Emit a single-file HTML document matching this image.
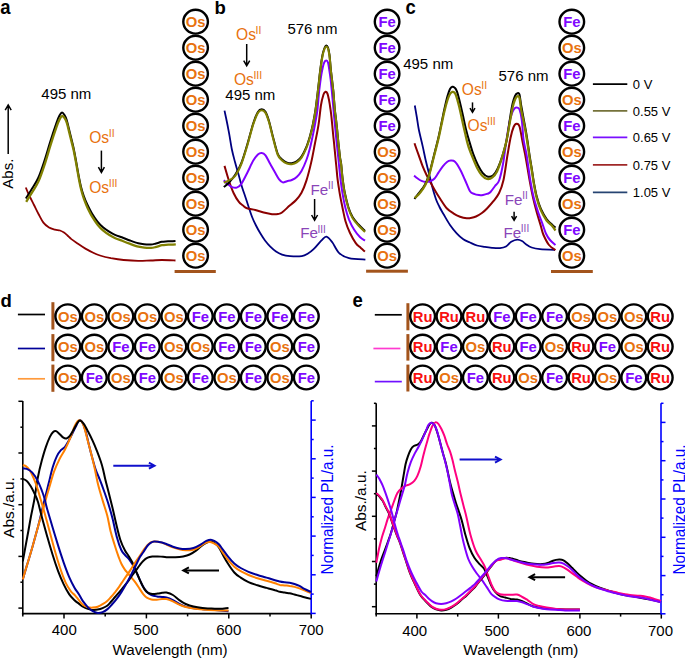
<!DOCTYPE html>
<html><head><meta charset="utf-8"><style>
html,body{margin:0;padding:0;background:#fff;width:685px;height:660px;overflow:hidden}
svg{display:block}
text{font-family:"Liberation Sans",sans-serif}
</style></head><body>
<svg width="685" height="660" viewBox="0 0 685 660">
<text x="0" y="0" font-size="18.5" font-weight="bold" transform="translate(0.3,14.1) scale(1,1.12)">a</text>
<text x="0" y="0" font-size="18.5" font-weight="bold" transform="translate(214.5,14.4) scale(1,1.00)">b</text>
<text x="0" y="0" font-size="18.5" font-weight="bold" transform="translate(405.6,14.0) scale(1,1.12)">c</text>
<text x="0" y="0" font-size="18.5" font-weight="bold" transform="translate(0.5,307.4) scale(1,1.00)">d</text>
<text x="0" y="0" font-size="18.5" font-weight="bold" transform="translate(352.4,307.3) scale(1,1.12)">e</text>
<path d="M25.8,187.5 C26.3,188.8 27.6,192.1 29.0,195.0 C30.4,197.9 32.4,201.8 34.0,205.0 C35.6,208.2 36.9,211.1 38.5,214.0 C40.1,216.9 41.6,220.3 43.4,222.6 C45.1,224.8 47.1,226.3 49.0,227.5 C50.9,228.7 53.2,229.1 55.0,229.6 C56.8,230.1 58.5,230.0 60.0,230.5 C61.5,231.0 62.8,231.7 64.0,232.5 C65.2,233.3 66.3,234.4 67.5,235.5 C68.7,236.6 69.7,237.7 71.4,239.1 C73.2,240.5 75.7,242.2 78.0,243.8 C80.3,245.4 83.0,247.2 85.4,248.6 C87.9,250.0 90.3,251.3 92.7,252.5 C95.1,253.7 97.0,254.6 100.0,255.5 C103.0,256.4 107.0,257.4 110.9,258.2 C114.8,258.9 119.0,259.6 123.6,260.0 C128.1,260.4 133.6,260.8 138.2,260.9 C142.8,261.0 147.0,260.6 150.9,260.5 C154.8,260.4 157.7,260.0 161.8,260.0 C165.9,260.0 173.2,260.4 175.5,260.5" fill="none" stroke="#8b0000" stroke-width="1.8" stroke-linejoin="round" stroke-linecap="butt" />
<path d="M25.9,198.5 C26.9,196.8 30.1,191.9 32.1,188.5 C34.2,185.1 36.2,182.5 38.2,178.0 C40.2,173.5 42.2,167.6 44.2,161.5 C46.2,155.4 48.3,147.9 50.3,141.5 C52.3,135.1 54.9,127.3 56.4,123.0 C57.9,118.7 58.6,117.2 59.5,115.5 C60.4,113.8 61.2,112.7 62.0,112.6 C62.8,112.5 63.7,113.8 64.5,115.0 C65.3,116.2 65.8,117.0 66.7,120.0 C67.6,123.0 68.9,128.9 70.0,133.3 C71.1,137.8 72.4,142.6 73.3,146.7 C74.2,150.8 74.8,154.4 75.5,158.0 C76.2,161.6 76.7,164.9 77.3,168.2 C77.9,171.4 78.4,174.5 79.0,177.5 C79.6,180.5 80.1,183.3 80.9,186.4 C81.7,189.5 82.7,193.0 83.8,196.0 C84.9,199.0 85.9,201.6 87.3,204.5 C88.7,207.4 90.3,210.7 92.0,213.5 C93.7,216.3 95.5,219.0 97.3,221.3 C99.1,223.6 101.0,225.5 103.0,227.2 C105.0,228.9 107.1,230.3 109.1,231.6 C111.1,232.9 112.9,233.9 115.0,234.8 C117.1,235.8 119.3,236.4 121.8,237.3 C124.3,238.2 127.3,239.5 130.0,240.5 C132.7,241.5 135.9,242.7 138.2,243.3 C140.5,243.9 141.9,244.1 144.0,244.3 C146.1,244.5 148.9,244.6 150.9,244.5 C152.9,244.4 154.2,243.9 156.0,243.5 C157.8,243.1 159.8,242.2 161.8,241.8 C163.8,241.4 165.7,241.5 168.0,241.3 C170.3,241.2 174.2,241.0 175.5,240.9" fill="none" stroke="#000" stroke-width="2.0" stroke-linejoin="round" stroke-linecap="butt" />
<path d="M26.2,201.9 C27.2,200.2 30.3,195.3 32.4,191.9 C34.4,188.5 36.5,185.9 38.5,181.4 C40.5,176.9 42.5,171.0 44.5,164.9 C46.5,158.8 48.6,151.3 50.6,144.9 C52.6,138.5 55.2,130.7 56.7,126.4 C58.2,122.1 58.9,120.6 59.8,118.9 C60.7,117.2 61.5,116.1 62.3,116.0 C63.1,115.9 64.0,117.2 64.8,118.4 C65.6,119.6 66.1,120.4 67.0,123.4 C67.9,126.5 69.2,132.3 70.3,136.7 C71.4,141.2 72.7,146.0 73.6,150.1 C74.5,154.2 75.1,157.8 75.8,161.4 C76.5,165.0 77.0,168.3 77.6,171.6 C78.2,174.8 78.7,177.9 79.3,180.9 C79.9,183.9 80.4,186.7 81.2,189.8 C82.0,192.9 83.0,196.4 84.1,199.4 C85.2,202.4 86.2,205.0 87.6,207.9 C89.0,210.8 90.6,214.1 92.3,216.9 C94.0,219.7 95.8,222.4 97.6,224.7 C99.4,227.0 101.3,228.9 103.3,230.6 C105.3,232.3 107.4,233.7 109.4,235.0 C111.4,236.3 113.2,237.2 115.3,238.2 C117.4,239.2 119.6,239.8 122.1,240.7 C124.6,241.7 127.6,242.9 130.3,243.9 C133.0,244.9 136.2,246.1 138.5,246.7 C140.8,247.3 142.2,247.5 144.3,247.7 C146.4,247.9 149.2,248.0 151.2,247.9 C153.2,247.8 154.5,247.3 156.3,246.9 C158.1,246.5 160.1,245.6 162.1,245.2 C164.1,244.8 166.0,244.9 168.3,244.7 C170.6,244.6 174.6,244.4 175.8,244.3" fill="none" stroke="#808000" stroke-width="2.3" stroke-linejoin="round" stroke-linecap="butt" />
<text x="41.3" y="99.2" font-size="15" fill="#000" font-weight="normal" text-anchor="start" >495 nm</text>
<path d="M8.2,154.0 L8.2,106.0" stroke="#000" stroke-width="1.5" fill="none"/>
<path d="M5.2,110.2 L8.2,105.0 L11.2,110.2" stroke="#000" stroke-width="1.5" fill="none" stroke-linejoin="miter" stroke-miterlimit="10"/>
<path d="M6.5,108.1 L8.2,105.0 L9.8,108.1 Z" fill="#000"/>
<text x="0" y="0" font-size="15" transform="translate(12.8,188.7) rotate(-90)">Abs.</text>
<text x="89.2" y="142.5" font-size="15.6" fill="#e8720f">Os<tspan font-size="10.5" dx="-0.4" dy="-5.6">II</tspan></text>
<path d="M101.4,150.6 L101.4,171.4" stroke="#000" stroke-width="1.5" fill="none"/>
<path d="M98.4,167.2 L101.4,172.4 L104.4,167.2" stroke="#000" stroke-width="1.5" fill="none" stroke-linejoin="miter" stroke-miterlimit="10"/>
<path d="M99.8,169.3 L101.4,172.4 L103.1,169.3 Z" fill="#000"/>
<text x="89.2" y="192.5" font-size="15.6" fill="#e8720f">Os<tspan font-size="10.5" dx="-0.4" dy="-5.6">III</tspan></text>
<ellipse cx="195.6" cy="21.7" rx="12.3" ry="11.9" fill="#fff" stroke="#000" stroke-width="2.4"/>
<text x="195.6" y="27.1" font-size="14.8" font-weight="bold" fill="#e8720f" text-anchor="middle">Os</text>
<ellipse cx="195.6" cy="47.7" rx="12.3" ry="11.9" fill="#fff" stroke="#000" stroke-width="2.4"/>
<text x="195.6" y="53.1" font-size="14.8" font-weight="bold" fill="#e8720f" text-anchor="middle">Os</text>
<ellipse cx="195.6" cy="73.7" rx="12.3" ry="11.9" fill="#fff" stroke="#000" stroke-width="2.4"/>
<text x="195.6" y="79.1" font-size="14.8" font-weight="bold" fill="#e8720f" text-anchor="middle">Os</text>
<ellipse cx="195.6" cy="99.7" rx="12.3" ry="11.9" fill="#fff" stroke="#000" stroke-width="2.4"/>
<text x="195.6" y="105.1" font-size="14.8" font-weight="bold" fill="#e8720f" text-anchor="middle">Os</text>
<ellipse cx="195.6" cy="125.7" rx="12.3" ry="11.9" fill="#fff" stroke="#000" stroke-width="2.4"/>
<text x="195.6" y="131.1" font-size="14.8" font-weight="bold" fill="#e8720f" text-anchor="middle">Os</text>
<ellipse cx="195.6" cy="151.7" rx="12.3" ry="11.9" fill="#fff" stroke="#000" stroke-width="2.4"/>
<text x="195.6" y="157.1" font-size="14.8" font-weight="bold" fill="#e8720f" text-anchor="middle">Os</text>
<ellipse cx="195.6" cy="177.7" rx="12.3" ry="11.9" fill="#fff" stroke="#000" stroke-width="2.4"/>
<text x="195.6" y="183.1" font-size="14.8" font-weight="bold" fill="#e8720f" text-anchor="middle">Os</text>
<ellipse cx="195.6" cy="203.7" rx="12.3" ry="11.9" fill="#fff" stroke="#000" stroke-width="2.4"/>
<text x="195.6" y="209.1" font-size="14.8" font-weight="bold" fill="#e8720f" text-anchor="middle">Os</text>
<ellipse cx="195.6" cy="229.7" rx="12.3" ry="11.9" fill="#fff" stroke="#000" stroke-width="2.4"/>
<text x="195.6" y="235.1" font-size="14.8" font-weight="bold" fill="#e8720f" text-anchor="middle">Os</text>
<ellipse cx="195.6" cy="255.7" rx="12.3" ry="11.9" fill="#fff" stroke="#000" stroke-width="2.4"/>
<text x="195.6" y="261.1" font-size="14.8" font-weight="bold" fill="#e8720f" text-anchor="middle">Os</text>
<rect x="174.6" y="270.0" width="41.2" height="3" fill="#a3541c"/>
<path d="M224.5,110.6 C224.9,112.4 226.0,117.7 226.8,121.5 C227.6,125.3 228.2,128.6 229.1,133.3 C230.0,138.1 231.0,145.2 232.0,150.0 C233.0,154.8 233.9,157.8 235.0,162.0 C236.1,166.2 237.5,170.8 238.7,175.0 C239.9,179.2 240.9,183.4 242.0,187.0 C243.1,190.6 244.2,193.4 245.3,196.7 C246.4,199.9 247.4,203.2 248.5,206.5 C249.6,209.8 250.8,213.5 252.0,216.7 C253.2,219.9 254.6,222.7 256.0,225.5 C257.4,228.3 258.8,230.8 260.3,233.3 C261.8,235.8 263.3,238.3 265.0,240.5 C266.7,242.7 268.5,244.9 270.3,246.7 C272.1,248.5 274.1,250.2 276.0,251.5 C277.9,252.8 279.7,253.8 282.0,254.6 C284.3,255.4 286.7,255.9 290.0,256.1 C293.3,256.4 298.8,256.5 301.8,256.1 C304.8,255.7 306.0,254.7 308.0,253.5 C310.0,252.3 311.4,251.4 313.6,249.2 C315.9,247.0 319.4,242.5 321.5,240.4 C323.6,238.3 324.6,236.3 326.4,236.6 C328.2,236.9 330.2,239.6 332.3,242.3 C334.4,245.1 336.4,250.5 339.2,253.1 C342.0,255.7 344.6,257.0 349.0,258.1 C353.4,259.2 362.7,259.4 365.4,259.6" fill="none" stroke="#000080" stroke-width="1.8" stroke-linejoin="round" stroke-linecap="butt" />
<path d="M224.5,165.9 C225.2,168.2 227.2,175.4 228.7,180.0 C230.2,184.6 232.0,189.7 233.7,193.3 C235.4,196.9 237.1,199.7 238.7,201.7 C240.2,203.7 241.6,204.4 243.0,205.5 C244.4,206.6 244.9,207.6 247.0,208.3 C249.1,209.1 252.5,209.3 255.3,210.0 C258.1,210.7 260.9,211.8 263.7,212.5 C266.5,213.2 269.6,213.9 272.0,214.2 C274.4,214.4 276.3,214.3 278.0,214.0 C279.7,213.7 280.1,213.9 282.0,212.5 C283.9,211.1 287.3,207.7 289.7,205.6 C292.1,203.5 294.1,202.2 296.1,200.0 C298.1,197.8 299.8,195.9 301.5,192.7 C303.2,189.5 304.8,185.6 306.4,180.6 C308.0,175.6 309.8,168.5 311.2,162.4 C312.6,156.3 313.6,150.5 314.8,144.2 C316.0,137.9 317.5,131.3 318.5,124.8 C319.5,118.3 320.2,110.0 321.0,105.0 C321.8,100.0 322.8,96.7 323.5,94.5 C324.2,92.3 324.9,92.0 325.5,91.8 C326.1,91.6 326.8,92.1 327.4,93.5 C328.0,94.9 328.5,97.6 329.0,100.0 C329.5,102.4 329.9,105.1 330.3,108.0 C330.7,110.9 331.1,113.5 331.5,117.3 C331.9,121.1 332.4,126.5 332.8,131.0 C333.2,135.6 333.8,140.1 334.2,144.6 C334.6,149.1 335.2,154.6 335.5,158.0 C335.8,161.4 335.8,161.4 336.2,165.0 C336.6,168.6 337.0,174.6 337.6,179.4 C338.2,184.2 339.0,189.0 339.8,193.8 C340.6,198.6 341.7,203.6 342.6,208.2 C343.6,212.8 344.3,217.1 345.5,221.2 C346.7,225.3 348.2,229.1 349.9,232.7 C351.6,236.3 353.9,240.4 355.6,242.8 C357.3,245.2 358.3,245.7 359.9,247.1 C361.5,248.5 364.1,250.8 365.0,251.5" fill="none" stroke="#8b0000" stroke-width="2.0" stroke-linejoin="round" stroke-linecap="butt" />
<path d="M223.8,180.3 C224.4,180.9 226.2,183.0 227.6,184.1 C229.0,185.2 230.6,186.5 232.1,187.1 C233.6,187.7 235.2,188.1 236.7,187.6 C238.2,187.1 239.4,186.6 241.2,184.1 C243.0,181.6 245.3,176.6 247.3,172.7 C249.3,168.8 251.5,163.6 253.3,160.6 C255.1,157.6 256.5,155.8 257.9,154.5 C259.3,153.2 260.4,152.9 261.7,153.0 C263.0,153.1 264.1,153.5 265.5,155.3 C266.9,157.1 268.4,160.8 270.0,163.6 C271.6,166.4 273.3,169.5 274.8,172.1 C276.3,174.7 277.8,177.7 279.1,179.4 C280.4,181.1 281.4,182.1 282.7,182.4 C284.0,182.7 285.5,181.6 287.0,181.2 C288.5,180.8 290.2,180.7 291.8,180.0 C293.4,179.3 295.1,178.5 296.7,177.0 C298.3,175.5 299.9,173.7 301.5,170.9 C303.1,168.1 305.0,163.8 306.4,160.0 C307.8,156.2 308.9,152.2 310.0,147.9 C311.1,143.7 312.1,138.9 313.0,134.5 C313.9,130.1 314.8,125.6 315.5,121.5 C316.2,117.4 316.8,115.1 317.4,110.0 C318.0,104.9 318.6,96.0 319.2,90.7 C319.8,85.4 320.3,81.5 320.8,78.0 C321.3,74.5 321.7,72.5 322.2,70.0 C322.7,67.5 323.3,64.6 324.0,63.0 C324.7,61.4 325.5,60.7 326.2,60.6 C326.9,60.5 327.5,60.9 328.0,62.5 C328.5,64.1 328.9,67.1 329.3,70.0 C329.8,72.9 330.3,76.5 330.7,80.0 C331.1,83.5 331.4,86.7 331.8,90.7 C332.2,94.7 332.6,99.6 333.0,104.0 C333.4,108.4 333.8,112.8 334.2,117.3 C334.6,121.8 335.1,126.5 335.5,131.0 C335.9,135.6 336.4,140.1 336.9,144.6 C337.4,149.1 337.9,154.6 338.3,158.0 C338.7,161.4 338.6,161.4 339.0,165.0 C339.4,168.6 339.9,174.6 340.5,179.4 C341.1,184.2 341.8,189.0 342.6,193.8 C343.4,198.6 344.4,203.9 345.5,208.2 C346.6,212.5 347.7,216.2 349.1,219.8 C350.6,223.4 352.4,226.9 354.2,229.8 C356.0,232.7 358.1,235.2 359.9,237.0 C361.7,238.8 364.1,240.0 365.0,240.6" fill="none" stroke="#8000ff" stroke-width="2.0" stroke-linejoin="round" stroke-linecap="butt" />
<path d="M223.8,187.1 C224.7,186.3 227.2,184.6 229.1,182.5 C231.0,180.4 233.1,178.1 235.2,174.8 C237.3,171.5 239.5,167.7 241.5,162.6 C243.5,157.5 245.3,151.1 247.3,144.5 C249.3,137.9 251.5,128.6 253.3,123.2 C255.1,117.8 256.5,114.2 257.9,111.9 C259.3,109.6 260.4,109.3 261.7,109.3 C263.0,109.3 264.2,109.8 265.5,111.9 C266.8,114.0 267.9,117.5 269.2,121.7 C270.4,125.9 271.6,131.6 273.0,136.9 C274.4,142.2 276.1,149.7 277.6,153.5 C279.1,157.3 280.5,158.0 282.1,159.5 C283.7,161.0 285.4,162.0 287.0,162.6 C288.6,163.2 290.2,163.4 291.8,163.2 C293.4,163.0 295.1,162.5 296.7,161.4 C298.3,160.3 299.9,159.0 301.5,156.6 C303.1,154.2 305.0,150.3 306.4,146.9 C307.8,143.5 308.9,139.8 310.0,136.0 C311.1,132.2 312.1,128.3 313.0,123.8 C313.9,119.3 314.8,114.7 315.6,109.0 C316.4,103.3 317.2,96.4 318.0,89.7 C318.8,83.0 319.6,74.8 320.4,69.0 C321.1,63.2 321.8,58.5 322.5,55.0 C323.2,51.5 323.9,49.6 324.5,48.0 C325.1,46.4 325.6,45.6 326.2,45.5 C326.8,45.4 327.4,45.9 328.0,47.5 C328.6,49.1 329.0,51.4 329.5,55.0 C330.0,58.6 330.2,63.2 330.8,69.0 C331.4,74.8 332.5,83.0 333.2,89.7 C333.9,96.4 334.3,104.1 334.8,109.0 C335.3,113.9 335.6,115.5 336.0,119.0 C336.4,122.5 336.8,125.9 337.2,130.0 C337.6,134.1 338.0,139.1 338.5,143.6 C339.0,148.1 339.6,153.6 340.0,157.0 C340.4,160.4 340.8,160.4 341.2,164.0 C341.6,167.6 342.0,173.6 342.6,178.4 C343.2,183.2 343.8,188.0 344.8,192.8 C345.8,197.6 347.1,203.1 348.4,207.2 C349.7,211.3 351.0,214.4 352.7,217.3 C354.4,220.2 356.4,222.2 358.5,224.5 C360.6,226.8 363.9,229.9 365.0,231.0" fill="none" stroke="#000" stroke-width="2.0" stroke-linejoin="round" stroke-linecap="butt" />
<path d="M223.8,182.6 C224.7,182.2 227.2,181.4 229.1,180.3 C231.0,179.2 233.1,178.6 235.2,175.8 C237.3,173.0 239.5,168.7 241.5,163.6 C243.5,158.5 245.3,152.1 247.3,145.5 C249.3,138.9 251.5,129.6 253.3,124.2 C255.1,118.8 256.5,115.2 257.9,112.9 C259.3,110.6 260.4,110.3 261.7,110.3 C263.0,110.3 264.2,110.8 265.5,112.9 C266.8,115.0 267.9,118.5 269.2,122.7 C270.4,126.9 271.6,132.6 273.0,137.9 C274.4,143.2 276.1,150.7 277.6,154.5 C279.1,158.3 280.5,159.0 282.1,160.5 C283.7,162.0 285.4,163.0 287.0,163.6 C288.6,164.2 290.2,164.4 291.8,164.2 C293.4,164.0 295.1,163.5 296.7,162.4 C298.3,161.3 299.9,160.0 301.5,157.6 C303.1,155.2 305.0,151.3 306.4,147.9 C307.8,144.5 308.9,140.8 310.0,137.0 C311.1,133.2 312.1,129.3 313.0,124.8 C313.9,120.3 314.8,115.7 315.6,110.0 C316.4,104.3 317.2,97.4 318.0,90.7 C318.8,84.0 319.6,75.8 320.4,70.0 C321.1,64.2 321.8,59.5 322.5,56.0 C323.2,52.5 323.9,50.6 324.5,49.0 C325.1,47.4 325.6,46.6 326.2,46.5 C326.8,46.4 327.4,46.9 328.0,48.5 C328.6,50.1 329.0,52.4 329.5,56.0 C330.0,59.6 330.2,64.2 330.8,70.0 C331.4,75.8 332.5,84.0 333.2,90.7 C333.9,97.4 334.3,105.1 334.8,110.0 C335.3,114.9 335.6,116.5 336.0,120.0 C336.4,123.5 336.8,126.9 337.2,131.0 C337.6,135.1 338.0,140.1 338.5,144.6 C339.0,149.1 339.6,154.6 340.0,158.0 C340.4,161.4 340.8,161.4 341.2,165.0 C341.6,168.6 342.0,174.6 342.6,179.4 C343.2,184.2 343.8,189.0 344.8,193.8 C345.8,198.6 347.1,204.1 348.4,208.2 C349.7,212.3 351.0,215.4 352.7,218.3 C354.4,221.2 356.4,223.2 358.5,225.5 C360.6,227.8 363.9,230.9 365.0,232.0" fill="none" stroke="#808000" stroke-width="2.1" stroke-linejoin="round" stroke-linecap="butt" />
<text x="236.0" y="40.0" font-size="15.6" fill="#e8720f">Os<tspan font-size="10.5" dx="-0.4" dy="-5.6">II</tspan></text>
<path d="M246.7,44.0 L246.7,64.8" stroke="#000" stroke-width="1.5" fill="none"/>
<path d="M243.7,60.6 L246.7,65.8 L249.7,60.6" stroke="#000" stroke-width="1.5" fill="none" stroke-linejoin="miter" stroke-miterlimit="10"/>
<path d="M245.0,62.7 L246.7,65.8 L248.3,62.7 Z" fill="#000"/>
<text x="233.9" y="84.7" font-size="15.6" fill="#e8720f">Os<tspan font-size="10.5" dx="-0.4" dy="-5.6">III</tspan></text>
<text x="225.3" y="99.8" font-size="15" fill="#000" font-weight="normal" text-anchor="start" >495 nm</text>
<text x="287.4" y="33.9" font-size="15" fill="#000" font-weight="normal" text-anchor="start" >576 nm</text>
<text x="310.6" y="194.6" font-size="15.2" fill="#8a45b8">Fe<tspan font-size="10" dx="-0.4" dy="-5.3">II</tspan></text>
<path d="M314.6,199.0 L314.6,219.2" stroke="#000" stroke-width="1.5" fill="none"/>
<path d="M311.6,215.0 L314.6,220.2 L317.6,215.0" stroke="#000" stroke-width="1.5" fill="none" stroke-linejoin="miter" stroke-miterlimit="10"/>
<path d="M313.0,217.1 L314.6,220.2 L316.2,217.1 Z" fill="#000"/>
<text x="300.2" y="238.2" font-size="15.2" fill="#8a45b8">Fe<tspan font-size="10" dx="-0.4" dy="-5.3">III</tspan></text>
<ellipse cx="387.1" cy="21.7" rx="12.3" ry="11.9" fill="#fff" stroke="#000" stroke-width="2.4"/>
<text x="387.1" y="27.1" font-size="14.8" font-weight="bold" fill="#7f08ff" text-anchor="middle">Fe</text>
<ellipse cx="387.1" cy="47.7" rx="12.3" ry="11.9" fill="#fff" stroke="#000" stroke-width="2.4"/>
<text x="387.1" y="53.1" font-size="14.8" font-weight="bold" fill="#7f08ff" text-anchor="middle">Fe</text>
<ellipse cx="387.1" cy="73.7" rx="12.3" ry="11.9" fill="#fff" stroke="#000" stroke-width="2.4"/>
<text x="387.1" y="79.1" font-size="14.8" font-weight="bold" fill="#7f08ff" text-anchor="middle">Fe</text>
<ellipse cx="387.1" cy="99.7" rx="12.3" ry="11.9" fill="#fff" stroke="#000" stroke-width="2.4"/>
<text x="387.1" y="105.1" font-size="14.8" font-weight="bold" fill="#7f08ff" text-anchor="middle">Fe</text>
<ellipse cx="387.1" cy="125.7" rx="12.3" ry="11.9" fill="#fff" stroke="#000" stroke-width="2.4"/>
<text x="387.1" y="131.1" font-size="14.8" font-weight="bold" fill="#7f08ff" text-anchor="middle">Fe</text>
<ellipse cx="387.1" cy="151.7" rx="12.3" ry="11.9" fill="#fff" stroke="#000" stroke-width="2.4"/>
<text x="387.1" y="157.1" font-size="14.8" font-weight="bold" fill="#e8720f" text-anchor="middle">Os</text>
<ellipse cx="387.1" cy="177.7" rx="12.3" ry="11.9" fill="#fff" stroke="#000" stroke-width="2.4"/>
<text x="387.1" y="183.1" font-size="14.8" font-weight="bold" fill="#e8720f" text-anchor="middle">Os</text>
<ellipse cx="387.1" cy="203.7" rx="12.3" ry="11.9" fill="#fff" stroke="#000" stroke-width="2.4"/>
<text x="387.1" y="209.1" font-size="14.8" font-weight="bold" fill="#e8720f" text-anchor="middle">Os</text>
<ellipse cx="387.1" cy="229.7" rx="12.3" ry="11.9" fill="#fff" stroke="#000" stroke-width="2.4"/>
<text x="387.1" y="235.1" font-size="14.8" font-weight="bold" fill="#e8720f" text-anchor="middle">Os</text>
<ellipse cx="387.1" cy="255.7" rx="12.3" ry="11.9" fill="#fff" stroke="#000" stroke-width="2.4"/>
<text x="387.1" y="261.1" font-size="14.8" font-weight="bold" fill="#e8720f" text-anchor="middle">Os</text>
<rect x="366.1" y="269.7" width="41.8" height="3" fill="#a3541c"/>
<path d="M414.8,105.5 C415.1,107.4 416.1,112.9 416.8,117.0 C417.5,121.1 417.9,125.2 418.9,130.0 C419.9,134.8 421.5,140.8 422.6,145.9 C423.8,151.0 424.7,156.2 425.8,160.8 C426.9,165.4 427.9,169.3 429.0,173.5 C430.1,177.7 431.0,181.9 432.1,186.2 C433.2,190.4 434.7,195.5 435.9,199.0 C437.1,202.5 438.3,204.5 439.5,207.0 C440.7,209.5 441.6,210.8 443.3,213.8 C445.1,216.8 447.8,221.8 450.0,225.0 C452.2,228.2 454.5,230.9 456.7,233.3 C458.9,235.7 461.1,237.7 463.3,239.2 C465.5,240.7 467.7,241.4 470.0,242.5 C472.3,243.6 474.5,244.8 477.0,245.5 C479.5,246.2 482.3,246.5 484.8,246.9 C487.3,247.3 489.5,247.6 492.0,247.8 C494.5,248.0 497.7,248.3 500.0,248.1 C502.3,247.9 504.1,247.6 506.0,246.5 C507.9,245.4 509.3,243.0 511.2,241.8 C513.1,240.7 515.4,239.7 517.2,239.6 C519.0,239.5 520.5,240.2 522.0,241.0 C523.5,241.8 524.7,243.4 526.3,244.5 C527.9,245.6 529.4,246.7 531.7,247.5 C534.0,248.3 536.1,248.8 540.0,249.2 C543.9,249.6 552.5,249.9 555.0,250.0" fill="none" stroke="#000080" stroke-width="1.8" stroke-linejoin="round" stroke-linecap="butt" />
<path d="M414.5,143.3 C415.1,145.2 417.0,150.6 418.4,154.4 C419.8,158.2 421.2,162.6 422.6,166.1 C424.0,169.6 425.4,172.6 426.8,175.5 C428.2,178.4 429.7,180.9 431.1,183.5 C432.5,186.1 433.8,188.4 435.3,191.0 C436.8,193.6 438.4,196.1 440.3,199.0 C442.2,201.9 444.5,205.9 446.7,208.3 C448.9,210.7 451.1,211.9 453.3,213.3 C455.5,214.7 457.8,215.9 460.0,216.7 C462.2,217.5 465.0,218.1 466.7,218.3 C468.4,218.5 468.8,218.3 470.4,218.0 C471.9,217.7 474.1,217.3 476.0,216.5 C477.9,215.7 480.1,214.3 481.9,213.0 C483.7,211.7 485.1,210.5 487.0,208.5 C488.9,206.5 491.4,203.8 493.4,201.2 C495.4,198.6 497.4,196.5 499.1,193.0 C500.8,189.5 502.1,186.3 503.5,180.0 C504.9,173.7 506.3,162.0 507.5,155.0 C508.7,148.0 509.5,142.7 510.5,138.0 C511.5,133.3 512.6,129.4 513.6,127.0 C514.6,124.6 515.6,123.9 516.6,123.8 C517.6,123.7 518.6,123.8 519.5,126.5 C520.4,129.2 521.3,135.3 522.2,140.0 C523.1,144.7 524.2,149.6 525.1,154.4 C526.0,159.2 526.8,163.9 527.6,168.7 C528.4,173.5 529.2,178.3 530.1,183.1 C531.0,187.9 531.9,192.7 533.0,197.5 C534.1,202.3 535.3,207.0 536.6,211.8 C537.9,216.6 539.8,222.3 540.9,226.2 C542.0,230.1 542.1,231.9 543.5,235.0 C544.9,238.1 547.0,242.5 549.0,245.0 C551.0,247.5 554.4,249.2 555.5,250.0" fill="none" stroke="#8b0000" stroke-width="2.0" stroke-linejoin="round" stroke-linecap="butt" />
<path d="M414.1,175.6 C414.6,176.0 416.1,177.3 417.3,178.2 C418.5,179.1 420.1,180.3 421.5,180.9 C422.9,181.5 424.4,181.9 425.8,182.0 C427.2,182.1 428.6,181.9 430.0,181.4 C431.4,180.9 432.9,180.3 434.3,178.8 C435.7,177.3 437.1,174.7 438.5,172.6 C439.9,170.5 441.4,168.2 442.8,166.4 C444.2,164.6 445.7,163.0 447.0,162.0 C448.3,161.0 449.5,160.7 450.8,160.6 C452.1,160.5 453.5,160.3 455.0,161.7 C456.5,163.1 458.3,166.1 460.0,169.2 C461.7,172.2 463.3,176.3 465.0,180.0 C466.7,183.7 468.5,188.9 470.0,191.2 C471.5,193.5 472.5,193.2 474.0,193.8 C475.5,194.5 477.5,194.9 479.0,195.1 C480.5,195.3 481.6,195.2 483.0,195.0 C484.4,194.8 486.4,194.2 487.6,193.7 C488.9,193.2 489.3,193.3 490.5,192.0 C491.7,190.7 493.6,187.9 495.0,186.0 C496.4,184.1 497.8,184.2 499.1,180.5 C500.4,176.8 501.8,170.8 503.0,164.0 C504.2,157.2 505.4,147.0 506.5,140.0 C507.6,133.0 508.5,126.7 509.5,122.0 C510.5,117.3 511.6,114.3 512.5,112.0 C513.4,109.7 514.2,108.7 515.0,108.0 C515.8,107.3 516.5,107.3 517.2,107.6 C518.0,107.8 518.7,107.4 519.5,109.5 C520.3,111.6 521.1,114.9 521.8,120.0 C522.5,125.1 522.8,134.3 523.6,140.0 C524.4,145.7 525.7,149.6 526.5,154.4 C527.3,159.2 527.9,163.9 528.6,168.7 C529.3,173.5 529.9,178.3 530.8,183.1 C531.6,187.9 532.5,192.7 533.7,197.5 C534.9,202.3 536.6,207.5 538.0,211.8 C539.4,216.1 541.0,219.7 542.3,223.3 C543.6,226.9 544.6,230.7 545.9,233.5 C547.2,236.3 548.4,238.1 550.0,240.0 C551.6,241.9 554.6,244.2 555.5,245.0" fill="none" stroke="#8000ff" stroke-width="2.0" stroke-linejoin="round" stroke-linecap="butt" />
<path d="M414.5,199.0 C415.1,198.1 417.0,195.5 418.4,193.7 C419.8,191.9 421.4,190.2 422.6,188.4 C423.8,186.6 424.7,185.3 425.8,183.0 C426.9,180.7 427.9,177.9 429.0,174.5 C430.1,171.1 431.1,166.9 432.1,162.8 C433.2,158.7 434.2,154.2 435.3,150.0 C436.4,145.8 437.5,141.8 438.5,137.3 C439.5,132.8 440.5,127.8 441.5,123.0 C442.5,118.2 443.5,113.0 444.5,108.5 C445.5,104.0 446.6,99.2 447.5,96.0 C448.4,92.8 449.2,90.5 450.0,89.0 C450.8,87.5 451.6,87.0 452.3,86.8 C453.1,86.6 453.8,86.9 454.5,87.6 C455.2,88.3 455.9,88.8 456.8,91.1 C457.7,93.4 458.8,97.7 459.8,101.7 C460.8,105.7 461.9,110.8 462.9,115.3 C463.9,119.8 464.8,124.4 465.9,128.9 C467.0,133.5 468.4,138.3 469.7,142.6 C471.0,146.9 472.1,150.9 473.5,154.7 C474.9,158.5 476.5,162.3 478.0,165.3 C479.5,168.3 481.0,171.0 482.6,172.9 C484.2,174.8 486.1,176.3 487.9,176.7 C489.7,177.1 491.6,176.6 493.2,175.2 C494.8,173.8 496.2,171.5 497.7,168.3 C499.2,165.1 500.8,161.0 502.3,156.2 C503.8,151.4 505.5,145.8 506.8,139.5 C508.1,133.2 509.1,124.2 510.0,118.3 C510.9,112.4 511.7,107.7 512.5,104.0 C513.3,100.3 514.2,97.8 515.0,96.0 C515.8,94.2 516.8,93.5 517.5,93.3 C518.2,93.0 518.9,92.5 519.5,94.5 C520.1,96.5 520.4,101.1 521.1,105.0 C521.8,108.9 522.7,113.7 523.5,118.0 C524.3,122.3 525.2,126.8 525.9,131.0 C526.6,135.2 527.2,138.9 527.8,143.0 C528.4,147.1 529.0,151.5 529.6,155.5 C530.2,159.5 530.8,162.7 531.5,167.0 C532.2,171.3 532.9,176.7 533.7,181.5 C534.6,186.3 535.4,191.4 536.6,196.0 C537.8,200.6 539.2,205.2 540.9,209.0 C542.6,212.8 544.7,216.3 546.6,219.0 C548.5,221.7 550.9,223.6 552.4,225.0 C553.9,226.4 555.0,227.2 555.5,227.6" fill="none" stroke="#000" stroke-width="2.0" stroke-linejoin="round" stroke-linecap="butt" />
<path d="M414.7,198.0 C415.3,197.4 417.1,196.1 418.4,194.7 C419.7,193.3 421.4,191.2 422.6,189.4 C423.8,187.6 424.7,186.4 425.8,184.1 C426.9,181.8 427.9,179.0 429.0,175.6 C430.1,172.2 431.1,168.0 432.1,163.9 C433.2,159.8 434.2,155.4 435.3,151.2 C436.4,147.0 437.5,142.9 438.5,138.5 C439.5,134.1 440.5,129.1 441.5,124.5 C442.5,119.9 443.5,115.1 444.5,111.0 C445.5,106.9 446.6,102.8 447.5,100.0 C448.4,97.2 449.2,95.3 450.0,94.0 C450.8,92.7 451.6,92.1 452.3,91.9 C453.1,91.7 453.9,92.0 454.5,92.6 C455.1,93.2 455.3,93.3 456.1,95.6 C456.9,97.9 458.1,102.2 459.1,106.2 C460.1,110.2 461.1,115.2 462.1,119.8 C463.1,124.3 464.2,129.2 465.2,133.5 C466.2,137.8 466.9,141.6 468.2,145.6 C469.4,149.6 471.2,153.9 472.7,157.7 C474.2,161.5 475.8,165.4 477.3,168.3 C478.8,171.2 480.2,173.4 481.8,175.2 C483.4,177.0 485.3,178.5 487.1,178.9 C488.9,179.3 490.8,178.7 492.4,177.4 C494.0,176.2 495.5,174.4 497.0,171.4 C498.5,168.4 500.0,164.0 501.5,159.2 C503.0,154.4 504.7,148.9 506.1,142.6 C507.5,136.3 508.9,127.2 510.0,121.4 C511.1,115.6 511.7,111.7 512.5,108.0 C513.3,104.3 514.2,101.5 515.0,99.5 C515.8,97.5 516.5,96.5 517.3,96.3 C518.0,96.0 518.9,95.8 519.5,98.0 C520.1,100.2 520.4,105.5 521.1,109.3 C521.8,113.1 522.7,117.0 523.5,121.0 C524.3,125.0 525.2,129.4 525.9,133.5 C526.6,137.6 527.2,141.4 527.8,145.5 C528.4,149.6 529.0,153.9 529.6,157.8 C530.2,161.7 530.8,164.5 531.5,168.7 C532.2,172.9 532.9,178.3 533.7,183.1 C534.6,187.9 535.4,192.9 536.6,197.5 C537.8,202.1 539.2,206.6 540.9,210.4 C542.6,214.2 544.7,217.9 546.6,220.5 C548.5,223.1 550.9,224.5 552.4,226.2 C553.9,227.9 555.0,229.8 555.5,230.5" fill="none" stroke="#808000" stroke-width="2.3" stroke-linejoin="round" stroke-linecap="butt" />
<text x="403.2" y="69.4" font-size="15" fill="#000" font-weight="normal" text-anchor="start" >495 nm</text>
<text x="498.5" y="80.6" font-size="15" fill="#000" font-weight="normal" text-anchor="start" >576 nm</text>
<text x="461.8" y="95.0" font-size="15.6" fill="#e8720f">Os<tspan font-size="10.5" dx="-0.4" dy="-5.6">II</tspan></text>
<path d="M472.5,102.4 L472.5,111.3" stroke="#000" stroke-width="1.5" fill="none"/>
<path d="M470.0,108.1 L472.5,112.3 L475.0,108.1" stroke="#000" stroke-width="1.5" fill="none" stroke-linejoin="miter" stroke-miterlimit="10"/>
<path d="M471.1,109.8 L472.5,112.3 L473.9,109.8 Z" fill="#000"/>
<text x="467.5" y="131.0" font-size="15.6" fill="#e8720f">Os<tspan font-size="10.5" dx="-0.4" dy="-5.6">III</tspan></text>
<text x="504.8" y="204.6" font-size="15.2" fill="#8a45b8">Fe<tspan font-size="10" dx="-0.4" dy="-5.3">II</tspan></text>
<path d="M514.1,211.8 L514.1,219.3" stroke="#000" stroke-width="1.5" fill="none"/>
<path d="M511.6,216.1 L514.1,220.3 L516.6,216.1" stroke="#000" stroke-width="1.5" fill="none" stroke-linejoin="miter" stroke-miterlimit="10"/>
<path d="M512.7,217.8 L514.1,220.3 L515.5,217.8 Z" fill="#000"/>
<text x="503.5" y="237.5" font-size="15.2" fill="#8a45b8">Fe<tspan font-size="10" dx="-0.4" dy="-5.3">III</tspan></text>
<ellipse cx="571.8" cy="21.7" rx="12.3" ry="11.9" fill="#fff" stroke="#000" stroke-width="2.4"/>
<text x="571.8" y="27.1" font-size="14.8" font-weight="bold" fill="#7f08ff" text-anchor="middle">Fe</text>
<ellipse cx="571.8" cy="47.7" rx="12.3" ry="11.9" fill="#fff" stroke="#000" stroke-width="2.4"/>
<text x="571.8" y="53.1" font-size="14.8" font-weight="bold" fill="#e8720f" text-anchor="middle">Os</text>
<ellipse cx="571.8" cy="73.7" rx="12.3" ry="11.9" fill="#fff" stroke="#000" stroke-width="2.4"/>
<text x="571.8" y="79.1" font-size="14.8" font-weight="bold" fill="#7f08ff" text-anchor="middle">Fe</text>
<ellipse cx="571.8" cy="99.7" rx="12.3" ry="11.9" fill="#fff" stroke="#000" stroke-width="2.4"/>
<text x="571.8" y="105.1" font-size="14.8" font-weight="bold" fill="#e8720f" text-anchor="middle">Os</text>
<ellipse cx="571.8" cy="125.7" rx="12.3" ry="11.9" fill="#fff" stroke="#000" stroke-width="2.4"/>
<text x="571.8" y="131.1" font-size="14.8" font-weight="bold" fill="#7f08ff" text-anchor="middle">Fe</text>
<ellipse cx="571.8" cy="151.7" rx="12.3" ry="11.9" fill="#fff" stroke="#000" stroke-width="2.4"/>
<text x="571.8" y="157.1" font-size="14.8" font-weight="bold" fill="#e8720f" text-anchor="middle">Os</text>
<ellipse cx="571.8" cy="177.7" rx="12.3" ry="11.9" fill="#fff" stroke="#000" stroke-width="2.4"/>
<text x="571.8" y="183.1" font-size="14.8" font-weight="bold" fill="#7f08ff" text-anchor="middle">Fe</text>
<ellipse cx="571.8" cy="203.7" rx="12.3" ry="11.9" fill="#fff" stroke="#000" stroke-width="2.4"/>
<text x="571.8" y="209.1" font-size="14.8" font-weight="bold" fill="#e8720f" text-anchor="middle">Os</text>
<ellipse cx="571.8" cy="229.7" rx="12.3" ry="11.9" fill="#fff" stroke="#000" stroke-width="2.4"/>
<text x="571.8" y="235.1" font-size="14.8" font-weight="bold" fill="#7f08ff" text-anchor="middle">Fe</text>
<ellipse cx="571.8" cy="255.7" rx="12.3" ry="11.9" fill="#fff" stroke="#000" stroke-width="2.4"/>
<text x="571.8" y="261.1" font-size="14.8" font-weight="bold" fill="#e8720f" text-anchor="middle">Os</text>
<rect x="551.0" y="270.0" width="41.8" height="3" fill="#a3541c"/>
<line x1="592.9" y1="84.2" x2="627.3" y2="84.2" stroke="#000" stroke-width="1.8"/>
<text x="632.8" y="89.0" font-size="13" fill="#000" font-weight="normal" text-anchor="start" >0 V</text>
<line x1="592.9" y1="110.9" x2="627.3" y2="110.9" stroke="#75723a" stroke-width="1.8"/>
<text x="632.8" y="115.7" font-size="13" fill="#000" font-weight="normal" text-anchor="start" >0.55 V</text>
<line x1="592.9" y1="137.3" x2="627.3" y2="137.3" stroke="#7a10ff" stroke-width="1.8"/>
<text x="632.8" y="142.1" font-size="13" fill="#000" font-weight="normal" text-anchor="start" >0.65 V</text>
<line x1="592.9" y1="164.9" x2="627.3" y2="164.9" stroke="#a02828" stroke-width="1.8"/>
<text x="632.8" y="169.7" font-size="13" fill="#000" font-weight="normal" text-anchor="start" >0.75 V</text>
<line x1="592.9" y1="192.4" x2="627.3" y2="192.4" stroke="#264472" stroke-width="1.8"/>
<text x="632.8" y="197.2" font-size="13" fill="#000" font-weight="normal" text-anchor="start" >1.05 V</text>
<line x1="17.9" y1="314.5" x2="45" y2="314.5" stroke="#000" stroke-width="1.7"/>
<rect x="51.4" y="302.2" width="3.0" height="27.3" fill="#a3541c"/>
<ellipse cx="67.8" cy="316.3" rx="12.4" ry="11.9" fill="#fff" stroke="#000" stroke-width="2.4"/>
<text x="67.8" y="321.7" font-size="14.8" font-weight="bold" fill="#e8720f" text-anchor="middle">Os</text>
<ellipse cx="94.3" cy="316.3" rx="12.4" ry="11.9" fill="#fff" stroke="#000" stroke-width="2.4"/>
<text x="94.3" y="321.7" font-size="14.8" font-weight="bold" fill="#e8720f" text-anchor="middle">Os</text>
<ellipse cx="120.8" cy="316.3" rx="12.4" ry="11.9" fill="#fff" stroke="#000" stroke-width="2.4"/>
<text x="120.8" y="321.7" font-size="14.8" font-weight="bold" fill="#e8720f" text-anchor="middle">Os</text>
<ellipse cx="147.3" cy="316.3" rx="12.4" ry="11.9" fill="#fff" stroke="#000" stroke-width="2.4"/>
<text x="147.3" y="321.7" font-size="14.8" font-weight="bold" fill="#e8720f" text-anchor="middle">Os</text>
<ellipse cx="173.8" cy="316.3" rx="12.4" ry="11.9" fill="#fff" stroke="#000" stroke-width="2.4"/>
<text x="173.8" y="321.7" font-size="14.8" font-weight="bold" fill="#e8720f" text-anchor="middle">Os</text>
<ellipse cx="200.3" cy="316.3" rx="12.4" ry="11.9" fill="#fff" stroke="#000" stroke-width="2.4"/>
<text x="200.3" y="321.7" font-size="14.8" font-weight="bold" fill="#7f08ff" text-anchor="middle">Fe</text>
<ellipse cx="226.8" cy="316.3" rx="12.4" ry="11.9" fill="#fff" stroke="#000" stroke-width="2.4"/>
<text x="226.8" y="321.7" font-size="14.8" font-weight="bold" fill="#7f08ff" text-anchor="middle">Fe</text>
<ellipse cx="253.3" cy="316.3" rx="12.4" ry="11.9" fill="#fff" stroke="#000" stroke-width="2.4"/>
<text x="253.3" y="321.7" font-size="14.8" font-weight="bold" fill="#7f08ff" text-anchor="middle">Fe</text>
<ellipse cx="279.8" cy="316.3" rx="12.4" ry="11.9" fill="#fff" stroke="#000" stroke-width="2.4"/>
<text x="279.8" y="321.7" font-size="14.8" font-weight="bold" fill="#7f08ff" text-anchor="middle">Fe</text>
<ellipse cx="306.3" cy="316.3" rx="12.4" ry="11.9" fill="#fff" stroke="#000" stroke-width="2.4"/>
<text x="306.3" y="321.7" font-size="14.8" font-weight="bold" fill="#7f08ff" text-anchor="middle">Fe</text>
<line x1="374.8" y1="314.8" x2="401.8" y2="314.8" stroke="#000" stroke-width="1.7"/>
<rect x="406.4" y="303.2" width="3.0" height="27.1" fill="#a3541c"/>
<ellipse cx="422.6" cy="316.3" rx="12.4" ry="11.9" fill="#fff" stroke="#000" stroke-width="2.4"/>
<text x="422.6" y="321.7" font-size="14.8" font-weight="bold" fill="#f81010" text-anchor="middle">Ru</text>
<ellipse cx="449.0" cy="316.3" rx="12.4" ry="11.9" fill="#fff" stroke="#000" stroke-width="2.4"/>
<text x="449.0" y="321.7" font-size="14.8" font-weight="bold" fill="#f81010" text-anchor="middle">Ru</text>
<ellipse cx="475.4" cy="316.3" rx="12.4" ry="11.9" fill="#fff" stroke="#000" stroke-width="2.4"/>
<text x="475.4" y="321.7" font-size="14.8" font-weight="bold" fill="#f81010" text-anchor="middle">Ru</text>
<ellipse cx="501.8" cy="316.3" rx="12.4" ry="11.9" fill="#fff" stroke="#000" stroke-width="2.4"/>
<text x="501.8" y="321.7" font-size="14.8" font-weight="bold" fill="#7f08ff" text-anchor="middle">Fe</text>
<ellipse cx="528.2" cy="316.3" rx="12.4" ry="11.9" fill="#fff" stroke="#000" stroke-width="2.4"/>
<text x="528.2" y="321.7" font-size="14.8" font-weight="bold" fill="#7f08ff" text-anchor="middle">Fe</text>
<ellipse cx="554.6" cy="316.3" rx="12.4" ry="11.9" fill="#fff" stroke="#000" stroke-width="2.4"/>
<text x="554.6" y="321.7" font-size="14.8" font-weight="bold" fill="#7f08ff" text-anchor="middle">Fe</text>
<ellipse cx="581.0" cy="316.3" rx="12.4" ry="11.9" fill="#fff" stroke="#000" stroke-width="2.4"/>
<text x="581.0" y="321.7" font-size="14.8" font-weight="bold" fill="#e8720f" text-anchor="middle">Os</text>
<ellipse cx="607.4" cy="316.3" rx="12.4" ry="11.9" fill="#fff" stroke="#000" stroke-width="2.4"/>
<text x="607.4" y="321.7" font-size="14.8" font-weight="bold" fill="#e8720f" text-anchor="middle">Os</text>
<ellipse cx="633.8" cy="316.3" rx="12.4" ry="11.9" fill="#fff" stroke="#000" stroke-width="2.4"/>
<text x="633.8" y="321.7" font-size="14.8" font-weight="bold" fill="#e8720f" text-anchor="middle">Os</text>
<ellipse cx="660.2" cy="316.3" rx="12.4" ry="11.9" fill="#fff" stroke="#000" stroke-width="2.4"/>
<text x="660.2" y="321.7" font-size="14.8" font-weight="bold" fill="#f81010" text-anchor="middle">Ru</text>
<line x1="17.9" y1="348.5" x2="45" y2="348.5" stroke="#000099" stroke-width="1.7"/>
<rect x="51.4" y="334.1" width="3.0" height="27.1" fill="#a3541c"/>
<ellipse cx="67.8" cy="346.6" rx="12.4" ry="11.9" fill="#fff" stroke="#000" stroke-width="2.4"/>
<text x="67.8" y="352.0" font-size="14.8" font-weight="bold" fill="#e8720f" text-anchor="middle">Os</text>
<ellipse cx="94.3" cy="346.6" rx="12.4" ry="11.9" fill="#fff" stroke="#000" stroke-width="2.4"/>
<text x="94.3" y="352.0" font-size="14.8" font-weight="bold" fill="#e8720f" text-anchor="middle">Os</text>
<ellipse cx="120.8" cy="346.6" rx="12.4" ry="11.9" fill="#fff" stroke="#000" stroke-width="2.4"/>
<text x="120.8" y="352.0" font-size="14.8" font-weight="bold" fill="#7f08ff" text-anchor="middle">Fe</text>
<ellipse cx="147.3" cy="346.6" rx="12.4" ry="11.9" fill="#fff" stroke="#000" stroke-width="2.4"/>
<text x="147.3" y="352.0" font-size="14.8" font-weight="bold" fill="#7f08ff" text-anchor="middle">Fe</text>
<ellipse cx="173.8" cy="346.6" rx="12.4" ry="11.9" fill="#fff" stroke="#000" stroke-width="2.4"/>
<text x="173.8" y="352.0" font-size="14.8" font-weight="bold" fill="#e8720f" text-anchor="middle">Os</text>
<ellipse cx="200.3" cy="346.6" rx="12.4" ry="11.9" fill="#fff" stroke="#000" stroke-width="2.4"/>
<text x="200.3" y="352.0" font-size="14.8" font-weight="bold" fill="#e8720f" text-anchor="middle">Os</text>
<ellipse cx="226.8" cy="346.6" rx="12.4" ry="11.9" fill="#fff" stroke="#000" stroke-width="2.4"/>
<text x="226.8" y="352.0" font-size="14.8" font-weight="bold" fill="#7f08ff" text-anchor="middle">Fe</text>
<ellipse cx="253.3" cy="346.6" rx="12.4" ry="11.9" fill="#fff" stroke="#000" stroke-width="2.4"/>
<text x="253.3" y="352.0" font-size="14.8" font-weight="bold" fill="#7f08ff" text-anchor="middle">Fe</text>
<ellipse cx="279.8" cy="346.6" rx="12.4" ry="11.9" fill="#fff" stroke="#000" stroke-width="2.4"/>
<text x="279.8" y="352.0" font-size="14.8" font-weight="bold" fill="#e8720f" text-anchor="middle">Os</text>
<ellipse cx="306.3" cy="346.6" rx="12.4" ry="11.9" fill="#fff" stroke="#000" stroke-width="2.4"/>
<text x="306.3" y="352.0" font-size="14.8" font-weight="bold" fill="#7f08ff" text-anchor="middle">Fe</text>
<line x1="373.4" y1="348.5" x2="400.4" y2="348.5" stroke="#ff3ad0" stroke-width="1.7"/>
<rect x="406.4" y="334.1" width="3.0" height="26.5" fill="#a3541c"/>
<ellipse cx="422.6" cy="346.6" rx="12.4" ry="11.9" fill="#fff" stroke="#000" stroke-width="2.4"/>
<text x="422.6" y="352.0" font-size="14.8" font-weight="bold" fill="#f81010" text-anchor="middle">Ru</text>
<ellipse cx="449.0" cy="346.6" rx="12.4" ry="11.9" fill="#fff" stroke="#000" stroke-width="2.4"/>
<text x="449.0" y="352.0" font-size="14.8" font-weight="bold" fill="#7f08ff" text-anchor="middle">Fe</text>
<ellipse cx="475.4" cy="346.6" rx="12.4" ry="11.9" fill="#fff" stroke="#000" stroke-width="2.4"/>
<text x="475.4" y="352.0" font-size="14.8" font-weight="bold" fill="#e8720f" text-anchor="middle">Os</text>
<ellipse cx="501.8" cy="346.6" rx="12.4" ry="11.9" fill="#fff" stroke="#000" stroke-width="2.4"/>
<text x="501.8" y="352.0" font-size="14.8" font-weight="bold" fill="#f81010" text-anchor="middle">Ru</text>
<ellipse cx="528.2" cy="346.6" rx="12.4" ry="11.9" fill="#fff" stroke="#000" stroke-width="2.4"/>
<text x="528.2" y="352.0" font-size="14.8" font-weight="bold" fill="#7f08ff" text-anchor="middle">Fe</text>
<ellipse cx="554.6" cy="346.6" rx="12.4" ry="11.9" fill="#fff" stroke="#000" stroke-width="2.4"/>
<text x="554.6" y="352.0" font-size="14.8" font-weight="bold" fill="#e8720f" text-anchor="middle">Os</text>
<ellipse cx="581.0" cy="346.6" rx="12.4" ry="11.9" fill="#fff" stroke="#000" stroke-width="2.4"/>
<text x="581.0" y="352.0" font-size="14.8" font-weight="bold" fill="#f81010" text-anchor="middle">Ru</text>
<ellipse cx="607.4" cy="346.6" rx="12.4" ry="11.9" fill="#fff" stroke="#000" stroke-width="2.4"/>
<text x="607.4" y="352.0" font-size="14.8" font-weight="bold" fill="#7f08ff" text-anchor="middle">Fe</text>
<ellipse cx="633.8" cy="346.6" rx="12.4" ry="11.9" fill="#fff" stroke="#000" stroke-width="2.4"/>
<text x="633.8" y="352.0" font-size="14.8" font-weight="bold" fill="#e8720f" text-anchor="middle">Os</text>
<ellipse cx="660.2" cy="346.6" rx="12.4" ry="11.9" fill="#fff" stroke="#000" stroke-width="2.4"/>
<text x="660.2" y="352.0" font-size="14.8" font-weight="bold" fill="#f81010" text-anchor="middle">Ru</text>
<line x1="17.9" y1="378.8" x2="45" y2="378.8" stroke="#ff9a3c" stroke-width="1.7"/>
<rect x="51.4" y="364.6" width="3.0" height="27.2" fill="#a3541c"/>
<ellipse cx="67.8" cy="377.5" rx="12.4" ry="11.9" fill="#fff" stroke="#000" stroke-width="2.4"/>
<text x="67.8" y="382.9" font-size="14.8" font-weight="bold" fill="#e8720f" text-anchor="middle">Os</text>
<ellipse cx="94.3" cy="377.5" rx="12.4" ry="11.9" fill="#fff" stroke="#000" stroke-width="2.4"/>
<text x="94.3" y="382.9" font-size="14.8" font-weight="bold" fill="#7f08ff" text-anchor="middle">Fe</text>
<ellipse cx="120.8" cy="377.5" rx="12.4" ry="11.9" fill="#fff" stroke="#000" stroke-width="2.4"/>
<text x="120.8" y="382.9" font-size="14.8" font-weight="bold" fill="#e8720f" text-anchor="middle">Os</text>
<ellipse cx="147.3" cy="377.5" rx="12.4" ry="11.9" fill="#fff" stroke="#000" stroke-width="2.4"/>
<text x="147.3" y="382.9" font-size="14.8" font-weight="bold" fill="#7f08ff" text-anchor="middle">Fe</text>
<ellipse cx="173.8" cy="377.5" rx="12.4" ry="11.9" fill="#fff" stroke="#000" stroke-width="2.4"/>
<text x="173.8" y="382.9" font-size="14.8" font-weight="bold" fill="#e8720f" text-anchor="middle">Os</text>
<ellipse cx="200.3" cy="377.5" rx="12.4" ry="11.9" fill="#fff" stroke="#000" stroke-width="2.4"/>
<text x="200.3" y="382.9" font-size="14.8" font-weight="bold" fill="#7f08ff" text-anchor="middle">Fe</text>
<ellipse cx="226.8" cy="377.5" rx="12.4" ry="11.9" fill="#fff" stroke="#000" stroke-width="2.4"/>
<text x="226.8" y="382.9" font-size="14.8" font-weight="bold" fill="#e8720f" text-anchor="middle">Os</text>
<ellipse cx="253.3" cy="377.5" rx="12.4" ry="11.9" fill="#fff" stroke="#000" stroke-width="2.4"/>
<text x="253.3" y="382.9" font-size="14.8" font-weight="bold" fill="#7f08ff" text-anchor="middle">Fe</text>
<ellipse cx="279.8" cy="377.5" rx="12.4" ry="11.9" fill="#fff" stroke="#000" stroke-width="2.4"/>
<text x="279.8" y="382.9" font-size="14.8" font-weight="bold" fill="#e8720f" text-anchor="middle">Os</text>
<ellipse cx="306.3" cy="377.5" rx="12.4" ry="11.9" fill="#fff" stroke="#000" stroke-width="2.4"/>
<text x="306.3" y="382.9" font-size="14.8" font-weight="bold" fill="#7f08ff" text-anchor="middle">Fe</text>
<line x1="374.8" y1="381.6" x2="401.8" y2="381.6" stroke="#7010ff" stroke-width="1.7"/>
<rect x="406.4" y="364.6" width="3.0" height="26.9" fill="#a3541c"/>
<ellipse cx="422.6" cy="377.5" rx="12.4" ry="11.9" fill="#fff" stroke="#000" stroke-width="2.4"/>
<text x="422.6" y="382.9" font-size="14.8" font-weight="bold" fill="#f81010" text-anchor="middle">Ru</text>
<ellipse cx="449.0" cy="377.5" rx="12.4" ry="11.9" fill="#fff" stroke="#000" stroke-width="2.4"/>
<text x="449.0" y="382.9" font-size="14.8" font-weight="bold" fill="#e8720f" text-anchor="middle">Os</text>
<ellipse cx="475.4" cy="377.5" rx="12.4" ry="11.9" fill="#fff" stroke="#000" stroke-width="2.4"/>
<text x="475.4" y="382.9" font-size="14.8" font-weight="bold" fill="#7f08ff" text-anchor="middle">Fe</text>
<ellipse cx="501.8" cy="377.5" rx="12.4" ry="11.9" fill="#fff" stroke="#000" stroke-width="2.4"/>
<text x="501.8" y="382.9" font-size="14.8" font-weight="bold" fill="#f81010" text-anchor="middle">Ru</text>
<ellipse cx="528.2" cy="377.5" rx="12.4" ry="11.9" fill="#fff" stroke="#000" stroke-width="2.4"/>
<text x="528.2" y="382.9" font-size="14.8" font-weight="bold" fill="#e8720f" text-anchor="middle">Os</text>
<ellipse cx="554.6" cy="377.5" rx="12.4" ry="11.9" fill="#fff" stroke="#000" stroke-width="2.4"/>
<text x="554.6" y="382.9" font-size="14.8" font-weight="bold" fill="#7f08ff" text-anchor="middle">Fe</text>
<ellipse cx="581.0" cy="377.5" rx="12.4" ry="11.9" fill="#fff" stroke="#000" stroke-width="2.4"/>
<text x="581.0" y="382.9" font-size="14.8" font-weight="bold" fill="#f81010" text-anchor="middle">Ru</text>
<ellipse cx="607.4" cy="377.5" rx="12.4" ry="11.9" fill="#fff" stroke="#000" stroke-width="2.4"/>
<text x="607.4" y="382.9" font-size="14.8" font-weight="bold" fill="#e8720f" text-anchor="middle">Os</text>
<ellipse cx="633.8" cy="377.5" rx="12.4" ry="11.9" fill="#fff" stroke="#000" stroke-width="2.4"/>
<text x="633.8" y="382.9" font-size="14.8" font-weight="bold" fill="#7f08ff" text-anchor="middle">Fe</text>
<ellipse cx="660.2" cy="377.5" rx="12.4" ry="11.9" fill="#fff" stroke="#000" stroke-width="2.4"/>
<text x="660.2" y="382.9" font-size="14.8" font-weight="bold" fill="#f81010" text-anchor="middle">Ru</text>
<line x1="22.8" y1="401.0" x2="22.8" y2="614.4" stroke="#000" stroke-width="1.6"/>
<line x1="18.4" y1="401.3" x2="22.8" y2="401.3" stroke="#000" stroke-width="1.5"/>
<line x1="20.4" y1="427.2" x2="22.8" y2="427.2" stroke="#000" stroke-width="1.5"/>
<line x1="18.4" y1="453.0" x2="22.8" y2="453.0" stroke="#000" stroke-width="1.5"/>
<line x1="20.4" y1="478.9" x2="22.8" y2="478.9" stroke="#000" stroke-width="1.5"/>
<line x1="18.4" y1="504.7" x2="22.8" y2="504.7" stroke="#000" stroke-width="1.5"/>
<line x1="20.4" y1="530.5" x2="22.8" y2="530.5" stroke="#000" stroke-width="1.5"/>
<line x1="18.4" y1="556.4" x2="22.8" y2="556.4" stroke="#000" stroke-width="1.5"/>
<line x1="20.4" y1="582.2" x2="22.8" y2="582.2" stroke="#000" stroke-width="1.5"/>
<line x1="18.4" y1="608.1" x2="22.8" y2="608.1" stroke="#000" stroke-width="1.5"/>
<line x1="21.9" y1="613.6" x2="311.2" y2="613.6" stroke="#000" stroke-width="1.6"/>
<line x1="64.0" y1="613.6" x2="64.0" y2="618.4" stroke="#000" stroke-width="1.5"/>
<line x1="146.4" y1="613.6" x2="146.4" y2="618.4" stroke="#000" stroke-width="1.5"/>
<line x1="228.8" y1="613.6" x2="228.8" y2="618.4" stroke="#000" stroke-width="1.5"/>
<line x1="311.2" y1="613.6" x2="311.2" y2="618.4" stroke="#000" stroke-width="1.5"/>
<line x1="22.8" y1="613.6" x2="22.8" y2="616.4" stroke="#000" stroke-width="1.5"/>
<line x1="105.2" y1="613.6" x2="105.2" y2="616.4" stroke="#000" stroke-width="1.5"/>
<line x1="187.6" y1="613.6" x2="187.6" y2="616.4" stroke="#000" stroke-width="1.5"/>
<line x1="270.0" y1="613.6" x2="270.0" y2="616.4" stroke="#000" stroke-width="1.5"/>
<line x1="311.2" y1="401.0" x2="311.2" y2="614.4" stroke="#0000ff" stroke-width="1.6"/>
<line x1="311.2" y1="400.8" x2="313.7" y2="400.8" stroke="#0000ff" stroke-width="1.5"/>
<line x1="311.2" y1="420.1" x2="315.7" y2="420.1" stroke="#0000ff" stroke-width="1.5"/>
<line x1="311.2" y1="439.5" x2="313.7" y2="439.5" stroke="#0000ff" stroke-width="1.5"/>
<line x1="311.2" y1="458.8" x2="315.7" y2="458.8" stroke="#0000ff" stroke-width="1.5"/>
<line x1="311.2" y1="478.1" x2="313.7" y2="478.1" stroke="#0000ff" stroke-width="1.5"/>
<line x1="311.2" y1="497.4" x2="315.7" y2="497.4" stroke="#0000ff" stroke-width="1.5"/>
<line x1="311.2" y1="516.8" x2="313.7" y2="516.8" stroke="#0000ff" stroke-width="1.5"/>
<line x1="311.2" y1="536.1" x2="315.7" y2="536.1" stroke="#0000ff" stroke-width="1.5"/>
<line x1="311.2" y1="555.4" x2="313.7" y2="555.4" stroke="#0000ff" stroke-width="1.5"/>
<line x1="311.2" y1="574.8" x2="315.7" y2="574.8" stroke="#0000ff" stroke-width="1.5"/>
<line x1="311.2" y1="594.1" x2="313.7" y2="594.1" stroke="#0000ff" stroke-width="1.5"/>
<line x1="311.2" y1="613.4" x2="315.7" y2="613.4" stroke="#0000ff" stroke-width="1.5"/>
<text x="64.3" y="635.3" font-size="15" fill="#000" font-weight="normal" text-anchor="middle" >400</text>
<text x="146.1" y="635.3" font-size="15" fill="#000" font-weight="normal" text-anchor="middle" >500</text>
<text x="228.8" y="635.3" font-size="15" fill="#000" font-weight="normal" text-anchor="middle" >600</text>
<text x="311.2" y="635.3" font-size="15" fill="#000" font-weight="normal" text-anchor="middle" >700</text>
<text x="170.1" y="654.8" font-size="15.2" fill="#000" font-weight="normal" text-anchor="middle" >Wavelength (nm)</text>
<text x="0" y="0" font-size="15.4" text-anchor="middle" transform="translate(13.9,507.5) rotate(-90)">Abs./a.u.</text>
<text x="0" y="0" font-size="15.3" fill="#0000ff" text-anchor="middle" transform="translate(332.9,509.4) rotate(-90) scale(1,1.04)">Normalized PL/a.u.</text>
<line x1="376.2" y1="403.3" x2="376.2" y2="614.6" stroke="#000" stroke-width="1.6"/>
<line x1="373.9" y1="403.3" x2="376.2" y2="403.3" stroke="#000" stroke-width="1.5"/>
<line x1="371.9" y1="425.9" x2="376.2" y2="425.9" stroke="#000" stroke-width="1.5"/>
<line x1="373.9" y1="448.5" x2="376.2" y2="448.5" stroke="#000" stroke-width="1.5"/>
<line x1="371.9" y1="471.1" x2="376.2" y2="471.1" stroke="#000" stroke-width="1.5"/>
<line x1="373.9" y1="493.7" x2="376.2" y2="493.7" stroke="#000" stroke-width="1.5"/>
<line x1="371.9" y1="516.3" x2="376.2" y2="516.3" stroke="#000" stroke-width="1.5"/>
<line x1="373.9" y1="538.9" x2="376.2" y2="538.9" stroke="#000" stroke-width="1.5"/>
<line x1="371.9" y1="561.5" x2="376.2" y2="561.5" stroke="#000" stroke-width="1.5"/>
<line x1="373.9" y1="584.1" x2="376.2" y2="584.1" stroke="#000" stroke-width="1.5"/>
<line x1="371.9" y1="606.7" x2="376.2" y2="606.7" stroke="#000" stroke-width="1.5"/>
<line x1="375.4" y1="613.8" x2="661.0" y2="613.8" stroke="#000" stroke-width="1.6"/>
<line x1="416.9" y1="613.8" x2="416.9" y2="618.6" stroke="#000" stroke-width="1.5"/>
<line x1="498.4" y1="613.8" x2="498.4" y2="618.6" stroke="#000" stroke-width="1.5"/>
<line x1="579.9" y1="613.8" x2="579.9" y2="618.6" stroke="#000" stroke-width="1.5"/>
<line x1="661.3" y1="613.8" x2="661.3" y2="618.6" stroke="#000" stroke-width="1.5"/>
<line x1="376.2" y1="613.8" x2="376.2" y2="616.6" stroke="#000" stroke-width="1.5"/>
<line x1="457.7" y1="613.8" x2="457.7" y2="616.6" stroke="#000" stroke-width="1.5"/>
<line x1="539.1" y1="613.8" x2="539.1" y2="616.6" stroke="#000" stroke-width="1.5"/>
<line x1="620.6" y1="613.8" x2="620.6" y2="616.6" stroke="#000" stroke-width="1.5"/>
<line x1="661.0" y1="403.3" x2="661.0" y2="614.6" stroke="#0000ff" stroke-width="1.6"/>
<line x1="661.0" y1="403.3" x2="663.5" y2="403.3" stroke="#0000ff" stroke-width="1.5"/>
<line x1="661.0" y1="422.4" x2="665.5" y2="422.4" stroke="#0000ff" stroke-width="1.5"/>
<line x1="661.0" y1="441.6" x2="663.5" y2="441.6" stroke="#0000ff" stroke-width="1.5"/>
<line x1="661.0" y1="460.7" x2="665.5" y2="460.7" stroke="#0000ff" stroke-width="1.5"/>
<line x1="661.0" y1="479.9" x2="663.5" y2="479.9" stroke="#0000ff" stroke-width="1.5"/>
<line x1="661.0" y1="499.0" x2="665.5" y2="499.0" stroke="#0000ff" stroke-width="1.5"/>
<line x1="661.0" y1="518.1" x2="663.5" y2="518.1" stroke="#0000ff" stroke-width="1.5"/>
<line x1="661.0" y1="537.3" x2="665.5" y2="537.3" stroke="#0000ff" stroke-width="1.5"/>
<line x1="661.0" y1="556.4" x2="663.5" y2="556.4" stroke="#0000ff" stroke-width="1.5"/>
<line x1="661.0" y1="575.6" x2="665.5" y2="575.6" stroke="#0000ff" stroke-width="1.5"/>
<line x1="661.0" y1="594.7" x2="663.5" y2="594.7" stroke="#0000ff" stroke-width="1.5"/>
<line x1="661.0" y1="613.8" x2="665.5" y2="613.8" stroke="#0000ff" stroke-width="1.5"/>
<text x="414.7" y="635.5" font-size="15" fill="#000" font-weight="normal" text-anchor="middle" >400</text>
<text x="496.9" y="635.5" font-size="15" fill="#000" font-weight="normal" text-anchor="middle" >500</text>
<text x="578.9" y="635.5" font-size="15" fill="#000" font-weight="normal" text-anchor="middle" >600</text>
<text x="660.5" y="635.5" font-size="15" fill="#000" font-weight="normal" text-anchor="middle" >700</text>
<text x="520.9" y="655.0" font-size="15.2" fill="#000" font-weight="normal" text-anchor="middle" >Wavelength (nm)</text>
<text x="0" y="0" font-size="15.4" text-anchor="middle" transform="translate(366.2,500.6) rotate(-90)">Abs./a.u.</text>
<text x="0" y="0" font-size="15.3" fill="#0000ff" text-anchor="middle" transform="translate(684.8,509.6) rotate(-90) scale(1,1.04)">Normalized PL/a.u.</text>
<path d="M22.8,579.5 C23.5,576.9 25.6,569.7 27.3,564.1 C29.0,558.5 30.9,552.3 32.7,545.9 C34.5,539.5 36.7,531.5 38.2,525.9 C39.7,520.3 40.5,516.8 41.5,512.5 C42.5,508.2 43.3,504.8 44.5,500.0 C45.7,495.2 47.2,489.1 48.6,483.6 C50.0,478.2 51.3,471.8 52.7,467.3 C54.1,462.8 55.4,459.2 56.8,456.4 C58.2,453.5 59.5,451.8 60.9,450.2 C62.3,448.6 63.6,448.5 65.0,446.8 C66.4,445.1 67.7,442.5 69.1,440.0 C70.5,437.5 72.0,434.3 73.2,431.8 C74.5,429.3 75.6,426.9 76.6,425.0 C77.6,423.1 78.2,421.0 79.1,420.5 C80.0,420.0 80.9,420.1 82.0,421.8 C83.1,423.5 84.4,427.4 85.5,430.9 C86.6,434.4 87.5,439.0 88.5,443.0 C89.5,447.0 90.3,450.7 91.5,455.0 C92.7,459.3 94.1,464.9 95.5,469.0 C96.9,473.1 98.2,475.6 99.7,479.4 C101.2,483.1 102.7,487.2 104.2,491.5 C105.7,495.8 107.4,500.6 108.8,505.2 C110.2,509.8 111.2,513.3 112.6,518.8 C114.0,524.3 115.6,532.8 117.1,538.0 C118.5,543.2 120.0,547.2 121.3,550.0 C122.6,552.8 123.8,553.6 125.0,555.0 C126.2,556.4 127.4,557.1 128.6,558.6 C129.8,560.1 131.2,562.3 132.3,564.1 C133.4,565.9 134.1,567.7 135.0,569.5 C135.9,571.3 136.8,573.0 137.7,575.0 C138.6,577.0 139.6,579.4 140.5,581.4 C141.4,583.4 142.1,585.1 143.2,586.8 C144.2,588.5 145.4,590.4 146.8,591.8 C148.2,593.2 149.7,594.2 151.4,595.0 C153.1,595.8 155.0,596.1 156.8,596.4 C158.6,596.7 160.4,596.7 162.0,596.9 C163.6,597.1 164.6,596.9 166.4,597.4 C168.2,597.9 170.8,599.0 172.9,600.1 C175.1,601.2 177.2,602.9 179.3,604.0 C181.4,605.1 183.3,605.9 185.7,606.6 C188.1,607.3 190.7,607.9 193.5,608.3 C196.3,608.7 198.9,608.9 202.5,609.2 C206.1,609.5 210.7,609.6 215.0,610.0 C219.3,610.4 226.2,611.1 228.5,611.3" fill="none" stroke="#000099" stroke-width="2.0" stroke-linejoin="round" stroke-linecap="butt" />
<path d="M22.8,579.5 C23.5,576.9 25.6,569.7 27.3,564.1 C29.0,558.5 30.9,552.3 32.7,545.9 C34.5,539.5 36.4,532.3 38.2,525.9 C40.0,519.5 42.2,512.5 43.6,507.7 C45.0,502.9 45.4,500.8 46.5,497.0 C47.6,493.2 48.7,489.3 50.0,485.0 C51.3,480.7 52.5,475.7 54.1,471.4 C55.7,467.1 57.7,462.8 59.5,459.1 C61.3,455.5 63.2,453.1 65.0,449.5 C66.8,445.9 68.9,441.2 70.5,437.3 C72.1,433.4 73.4,429.0 74.5,426.4 C75.6,423.8 76.5,422.6 77.3,421.6 C78.1,420.6 78.3,420.3 79.1,420.3 C79.8,420.3 80.9,420.5 81.8,421.8 C82.7,423.1 83.6,425.3 84.5,428.2 C85.4,431.1 86.4,435.6 87.3,439.1 C88.2,442.6 89.2,445.9 90.0,449.1 C90.8,452.3 91.5,455.1 92.3,458.2 C93.0,461.3 93.5,463.0 94.5,467.5 C95.5,472.0 96.8,479.5 98.2,485.0 C99.6,490.5 101.2,495.5 102.7,500.6 C104.2,505.7 106.0,510.7 107.3,515.8 C108.6,520.8 109.3,526.1 110.5,530.9 C111.7,535.7 113.2,540.2 114.5,544.5 C115.8,548.8 117.4,553.5 118.6,556.8 C119.8,560.0 120.4,561.8 121.5,564.0 C122.6,566.2 123.8,568.1 125.0,569.8 C126.2,571.5 127.4,572.6 128.6,574.1 C129.8,575.6 131.1,577.1 132.3,578.6 C133.5,580.1 134.7,581.5 135.9,583.2 C137.1,584.9 138.3,586.8 139.5,588.6 C140.7,590.4 142.0,592.6 143.2,594.1 C144.4,595.6 145.4,596.8 146.8,597.7 C148.2,598.6 149.7,599.1 151.4,599.5 C153.1,599.9 155.0,599.9 156.8,599.8 C158.6,599.7 160.4,599.1 162.0,599.0 C163.6,598.9 164.6,598.7 166.4,599.1 C168.2,599.5 170.8,600.5 172.9,601.4 C175.1,602.3 177.2,603.7 179.3,604.6 C181.4,605.5 183.3,606.4 185.7,607.0 C188.1,607.6 190.7,608.1 193.5,608.5 C196.3,608.9 198.9,609.2 202.5,609.5 C206.1,609.8 210.7,610.1 215.0,610.3 C219.3,610.5 226.2,610.5 228.5,610.6" fill="none" stroke="#ff8000" stroke-width="2.0" stroke-linejoin="round" stroke-linecap="butt" />
<path d="M22.8,561.4 C23.5,557.3 25.9,544.2 27.3,536.8 C28.7,529.4 29.7,523.2 30.9,516.8 C32.1,510.4 33.4,505.0 34.5,498.6 C35.6,492.2 36.5,484.6 37.7,478.2 C38.9,471.8 40.4,465.7 41.8,460.5 C43.2,455.3 44.5,450.8 45.9,446.8 C47.3,442.8 48.8,439.1 50.0,436.6 C51.2,434.1 52.4,432.7 53.4,431.8 C54.4,430.9 55.1,430.8 56.1,431.1 C57.1,431.5 58.4,432.9 59.5,433.9 C60.6,434.9 61.9,436.6 63.0,437.3 C64.2,438.1 65.3,438.6 66.4,438.4 C67.5,438.2 68.5,437.4 69.8,435.9 C71.0,434.3 72.7,431.2 73.9,429.1 C75.2,427.0 76.3,424.4 77.3,423.0 C78.3,421.6 79.0,420.4 80.0,420.5 C81.0,420.6 82.2,421.7 83.6,423.6 C85.0,425.5 86.7,428.9 88.2,431.8 C89.7,434.7 91.2,437.6 92.7,440.9 C94.2,444.2 95.9,448.3 97.3,451.8 C98.7,455.3 99.9,458.8 100.9,461.8 C101.9,464.8 102.5,467.1 103.2,470.0 C103.9,472.9 104.3,475.2 105.2,479.0 C106.1,482.8 107.6,488.1 108.8,493.0 C110.0,497.9 111.3,502.9 112.6,508.2 C113.9,513.5 115.1,519.5 116.4,524.8 C117.7,530.1 119.0,535.7 120.4,540.0 C121.8,544.3 123.6,547.9 125.0,550.5 C126.4,553.1 127.4,553.9 128.6,555.9 C129.8,557.9 131.2,560.2 132.3,562.3 C133.4,564.4 134.1,566.5 135.0,568.6 C135.9,570.7 136.8,572.9 137.7,575.0 C138.6,577.1 139.4,579.1 140.5,581.4 C141.6,583.7 142.9,586.7 144.1,588.6 C145.3,590.5 146.3,591.8 147.7,592.7 C149.1,593.6 150.6,594.0 152.3,594.1 C154.0,594.2 156.1,593.8 157.7,593.6 C159.3,593.4 160.6,593.0 162.0,592.8 C163.4,592.6 164.6,592.2 166.4,592.6 C168.2,593.0 170.8,593.8 172.9,595.0 C175.1,596.2 177.2,598.6 179.3,600.1 C181.4,601.6 183.3,602.9 185.7,604.0 C188.1,605.1 190.7,606.0 193.5,606.6 C196.3,607.2 199.5,607.6 202.5,607.9 C205.5,608.2 208.6,608.5 211.5,608.6 C214.4,608.8 217.2,608.9 220.0,608.8 C222.8,608.7 227.1,608.0 228.5,607.9" fill="none" stroke="#000" stroke-width="2.0" stroke-linejoin="round" stroke-linecap="butt" />
<path d="M22.8,478.9 C23.4,479.2 25.4,479.6 26.8,480.9 C28.2,482.1 29.5,484.1 30.9,486.4 C32.3,488.7 33.8,491.9 35.0,494.5 C36.2,497.1 36.9,498.3 38.0,502.0 C39.1,505.7 40.2,511.0 41.8,516.8 C43.3,522.6 45.5,530.4 47.3,536.8 C49.1,543.2 50.9,549.2 52.7,555.0 C54.5,560.8 56.4,566.5 58.2,571.4 C60.0,576.2 61.8,580.3 63.6,584.1 C65.4,587.9 67.3,591.4 69.1,594.1 C70.9,596.8 72.9,598.6 74.5,600.2 C76.1,601.8 77.5,602.5 78.9,603.6 C80.3,604.7 81.4,605.8 82.9,606.7 C84.4,607.6 86.2,608.4 87.8,608.9 C89.4,609.4 91.0,609.8 92.7,609.9 C94.4,610.0 96.1,609.9 97.7,609.6 C99.3,609.3 101.0,608.8 102.6,608.1 C104.2,607.4 106.0,606.6 107.5,605.5 C109.0,604.4 110.2,602.6 111.5,601.2 C112.8,599.8 113.7,598.5 115.0,597.0 C116.3,595.5 117.7,594.0 119.1,592.3 C120.5,590.6 122.0,588.9 123.6,587.0 C125.1,585.1 126.9,583.0 128.4,581.0 C129.9,579.0 131.2,576.8 132.5,575.0 C133.8,573.2 134.8,571.9 136.0,570.3 C137.2,568.7 138.3,567.1 139.5,565.5 C140.7,563.9 141.8,562.2 143.2,560.9 C144.6,559.6 146.2,558.4 147.7,557.7 C149.2,557.0 150.6,556.8 152.3,556.6 C154.0,556.4 155.9,556.4 157.7,556.4 C159.5,556.4 161.3,556.7 163.0,556.8 C164.7,556.9 165.6,557.1 167.7,557.2 C169.8,557.3 172.8,557.4 175.4,557.3 C178.0,557.2 180.8,556.9 183.2,556.4 C185.6,555.9 187.5,555.5 189.6,554.5 C191.7,553.5 194.1,552.0 196.0,550.6 C197.9,549.2 199.5,547.4 201.2,546.1 C202.9,544.8 204.7,543.6 206.3,542.9 C207.9,542.1 209.4,541.5 210.8,541.6 C212.2,541.7 213.5,542.3 214.8,543.3 C216.2,544.3 217.6,545.5 218.9,547.4 C220.2,549.3 221.2,551.8 222.7,554.5 C224.2,557.2 226.0,560.5 227.9,563.5 C229.8,566.5 232.2,570.1 234.3,572.5 C236.4,574.9 238.3,576.0 240.7,577.6 C243.1,579.2 245.7,580.8 248.5,582.1 C251.3,583.4 254.5,584.3 257.5,585.3 C260.5,586.3 263.6,587.1 266.5,587.9 C269.4,588.7 272.8,589.6 275.0,590.3 C277.2,590.9 278.2,591.4 279.8,591.8 C281.4,592.2 283.1,592.2 284.7,592.5 C286.3,592.8 288.0,593.0 289.6,593.3 C291.2,593.6 292.9,594.1 294.5,594.5 C296.1,594.9 297.8,595.3 299.4,595.8 C301.0,596.2 302.5,596.7 304.4,597.2 C306.3,597.7 309.9,598.6 311.0,598.9" fill="none" stroke="#000" stroke-width="2.0" stroke-linejoin="round" stroke-linecap="butt" />
<path d="M22.8,465.2 C23.2,465.3 24.4,465.1 25.5,465.9 C26.6,466.7 28.1,467.9 29.5,470.0 C30.9,472.1 32.2,475.0 33.6,478.2 C35.0,481.4 36.6,485.6 37.7,489.1 C38.9,492.6 39.5,495.6 40.5,499.0 C41.5,502.4 42.2,504.4 43.6,509.5 C45.0,514.6 47.3,522.8 49.1,529.5 C50.9,536.2 52.7,543.1 54.5,549.5 C56.3,555.9 58.2,562.2 60.0,567.7 C61.8,573.2 63.7,578.3 65.5,582.3 C67.3,586.2 69.3,589.2 70.9,591.4 C72.5,593.6 73.7,593.8 75.0,595.3 C76.3,596.8 77.6,598.6 78.9,600.2 C80.2,601.8 81.4,603.6 82.9,604.7 C84.4,605.9 86.2,606.6 87.8,607.1 C89.4,607.6 91.0,607.7 92.7,607.6 C94.4,607.5 96.1,607.3 97.7,606.7 C99.3,606.1 101.0,605.2 102.6,604.2 C104.2,603.2 106.1,601.9 107.5,600.7 C108.9,599.5 109.8,598.3 111.0,597.0 C112.2,595.7 113.2,594.6 114.5,592.9 C115.8,591.2 117.6,588.9 119.1,586.8 C120.6,584.6 122.1,582.2 123.6,580.0 C125.1,577.8 126.7,575.6 128.2,573.4 C129.7,571.2 131.1,568.9 132.5,566.8 C133.9,564.7 135.2,562.5 136.5,560.6 C137.8,558.7 138.9,557.3 140.0,555.6 C141.1,553.9 142.1,552.1 143.2,550.5 C144.3,548.9 145.7,547.2 146.8,545.9 C147.9,544.6 148.8,543.5 150.0,542.8 C151.2,542.1 152.8,541.7 154.1,541.5 C155.4,541.3 156.7,541.5 158.0,541.7 C159.3,541.9 160.6,542.1 162.0,542.6 C163.4,543.1 164.6,543.8 166.4,544.6 C168.2,545.4 170.8,546.6 172.9,547.4 C175.1,548.2 177.2,548.8 179.3,549.3 C181.4,549.8 183.5,550.2 185.7,550.3 C187.8,550.4 190.0,550.5 192.2,550.0 C194.3,549.5 196.5,548.6 198.6,547.4 C200.7,546.2 203.1,543.9 205.0,543.0 C206.9,542.1 208.6,541.9 210.2,542.0 C211.8,542.1 213.4,543.1 214.8,543.9 C216.2,544.7 217.6,545.3 218.9,546.7 C220.2,548.1 221.2,550.4 222.7,552.5 C224.2,554.6 226.0,557.2 227.9,559.6 C229.8,562.0 232.2,564.8 234.3,566.7 C236.4,568.6 238.3,569.8 240.7,571.2 C243.1,572.6 245.7,573.8 248.5,575.0 C251.3,576.2 254.5,577.3 257.5,578.3 C260.5,579.3 263.6,580.0 266.5,580.8 C269.4,581.6 272.8,582.6 275.0,583.3 C277.2,584.0 278.2,584.5 279.8,584.9 C281.4,585.2 283.1,585.2 284.7,585.4 C286.3,585.6 288.0,585.6 289.6,585.9 C291.2,586.1 292.9,586.5 294.5,586.9 C296.1,587.3 297.8,587.8 299.4,588.4 C301.0,589.0 302.5,589.6 304.4,590.4 C306.3,591.2 309.9,592.6 311.0,593.0" fill="none" stroke="#ff8000" stroke-width="2.0" stroke-linejoin="round" stroke-linecap="butt" />
<path d="M22.8,468.6 C23.4,468.7 25.2,468.2 26.8,468.9 C28.4,469.6 30.5,470.7 32.3,472.7 C34.1,474.7 36.1,477.9 37.7,480.9 C39.3,483.9 40.7,487.6 41.8,490.5 C42.9,493.4 43.6,495.3 44.5,498.5 C45.4,501.7 45.9,504.6 47.3,509.5 C48.7,514.4 50.9,521.6 52.7,527.7 C54.5,533.8 56.4,540.1 58.2,545.9 C60.0,551.7 61.8,557.1 63.6,562.3 C65.4,567.4 67.3,572.6 69.1,576.8 C70.9,581.0 72.9,584.8 74.5,587.7 C76.1,590.6 77.5,592.0 78.9,594.3 C80.3,596.5 81.4,599.1 82.9,601.2 C84.4,603.3 86.2,605.5 87.8,607.1 C89.4,608.8 91.0,610.1 92.7,611.1 C94.4,612.1 96.1,612.7 97.7,612.9 C99.3,613.1 101.0,612.7 102.6,612.1 C104.2,611.5 106.0,610.3 107.5,609.1 C109.0,607.9 110.1,606.6 111.5,605.0 C112.9,603.4 114.4,601.9 116.1,599.7 C117.8,597.6 119.6,594.9 121.4,592.1 C123.2,589.3 125.1,585.9 126.7,583.0 C128.3,580.1 129.8,577.5 131.2,574.7 C132.6,572.0 133.9,569.3 135.3,566.5 C136.7,563.7 138.2,560.2 139.5,557.8 C140.8,555.4 141.8,554.3 143.2,552.3 C144.6,550.2 146.4,547.1 147.7,545.5 C149.0,543.9 149.9,543.3 151.0,542.6 C152.1,541.9 152.9,541.6 154.1,541.5 C155.3,541.4 156.7,541.6 158.0,541.8 C159.3,542.0 160.6,542.1 162.0,542.5 C163.4,542.9 164.6,543.3 166.4,544.0 C168.2,544.7 170.8,546.0 172.9,546.7 C175.1,547.5 177.2,548.1 179.3,548.5 C181.4,548.9 183.3,549.2 185.7,549.1 C188.1,549.0 190.9,548.8 193.5,548.0 C196.1,547.2 199.1,545.4 201.2,544.2 C203.3,543.0 204.7,541.6 206.3,540.9 C207.9,540.2 209.4,539.8 210.8,539.8 C212.2,539.8 213.5,540.5 214.8,541.2 C216.2,541.9 217.6,542.9 218.9,544.2 C220.2,545.6 221.2,547.3 222.7,549.3 C224.2,551.3 226.0,554.0 227.9,556.4 C229.8,558.8 232.2,561.6 234.3,563.5 C236.4,565.4 238.3,566.6 240.7,568.0 C243.1,569.4 245.7,570.6 248.5,571.8 C251.3,573.0 254.5,574.0 257.5,575.0 C260.5,576.0 263.6,576.7 266.5,577.6 C269.4,578.5 272.8,579.6 275.0,580.2 C277.2,580.9 278.2,581.1 279.8,581.5 C281.4,581.9 283.1,582.1 284.7,582.3 C286.3,582.5 288.0,582.4 289.6,582.7 C291.2,583.0 292.9,583.5 294.5,584.0 C296.1,584.5 297.8,585.1 299.4,585.9 C301.0,586.7 302.5,587.9 304.4,588.9 C306.3,589.9 309.9,591.5 311.0,592.0" fill="none" stroke="#000099" stroke-width="2.0" stroke-linejoin="round" stroke-linecap="butt" />
<path d="M113.3,465.7 L153.5,465.7" stroke="#1010cc" stroke-width="2.0" fill="none"/>
<path d="M148.9,462.7 L154.5,465.7 L148.9,468.7" stroke="#1010cc" stroke-width="2.0" fill="none" stroke-linejoin="miter" stroke-miterlimit="10"/>
<path d="M151.1,464.1 L154.5,465.7 L151.1,467.3 Z" fill="#1010cc"/>
<path d="M219.0,570.4 L184.3,570.4" stroke="#000" stroke-width="2.0" fill="none"/>
<path d="M188.9,567.4 L183.3,570.4 L188.9,573.4" stroke="#000" stroke-width="2.0" fill="none" stroke-linejoin="miter" stroke-miterlimit="10"/>
<path d="M186.7,568.8 L183.3,570.4 L186.7,572.0 Z" fill="#000"/>
<path d="M376.3,576.3 C377.0,573.9 378.8,566.9 380.4,562.2 C381.9,557.5 383.9,552.7 385.6,548.0 C387.3,543.3 389.3,538.4 390.7,533.9 C392.1,529.4 393.2,524.9 394.2,521.3 C395.2,517.6 395.9,515.4 396.7,512.0 C397.5,508.6 398.2,505.0 399.0,501.0 C399.8,497.0 400.8,492.2 401.5,488.0 C402.2,483.8 402.8,479.9 403.5,476.0 C404.2,472.1 404.8,467.8 405.5,464.5 C406.2,461.2 407.0,458.8 407.9,456.3 C408.8,453.8 409.8,451.1 410.8,449.4 C411.8,447.7 412.7,446.8 413.8,446.0 C414.9,445.2 416.6,445.2 417.7,444.5 C418.8,443.8 419.7,443.1 420.7,441.6 C421.7,440.1 422.6,437.7 423.6,435.7 C424.6,433.7 425.6,431.7 426.6,429.8 C427.6,427.9 428.6,425.6 429.5,424.4 C430.4,423.2 431.2,422.6 432.0,422.7 C432.8,422.8 433.5,423.1 434.4,424.8 C435.3,426.5 436.4,429.6 437.4,432.7 C438.4,435.8 439.4,439.9 440.4,443.5 C441.4,447.1 442.3,450.8 443.3,454.4 C444.3,458.0 445.2,460.6 446.3,465.2 C447.4,469.8 448.8,477.2 449.9,481.8 C451.0,486.4 451.9,489.2 452.9,492.6 C453.9,496.1 454.8,499.4 455.8,502.5 C456.8,505.6 457.8,508.4 458.8,511.3 C459.8,514.2 460.9,517.3 461.7,520.2 C462.5,523.1 463.1,525.8 463.8,528.5 C464.5,531.2 464.9,533.2 465.9,536.5 C466.9,539.8 468.2,544.6 469.6,548.1 C471.0,551.6 472.8,555.2 474.4,557.8 C476.0,560.4 477.7,562.0 479.3,563.8 C480.9,565.6 482.7,566.5 484.1,568.7 C485.5,570.9 486.6,574.4 487.8,577.2 C489.0,580.0 490.2,583.3 491.4,585.7 C492.6,588.1 493.6,590.0 495.0,591.7 C496.4,593.4 498.2,595.0 499.9,596.0 C501.6,597.0 503.5,597.0 505.3,597.5 C507.1,598.0 508.7,598.5 510.6,598.9 C512.6,599.2 515.0,599.2 517.0,599.6 C519.0,600.0 520.5,600.5 522.3,601.2 C524.1,601.9 525.8,603.0 527.6,603.9 C529.4,604.8 531.0,605.6 532.9,606.3 C534.8,606.9 536.9,607.4 539.2,607.8 C541.5,608.2 543.2,608.4 546.7,608.6 C550.2,608.9 556.1,609.1 560.0,609.3 C563.9,609.5 566.7,609.6 570.0,609.6 C573.3,609.6 578.2,609.4 579.9,609.4" fill="none" stroke="#000" stroke-width="2.0" stroke-linejoin="round" stroke-linecap="butt" />
<path d="M376.3,562.8 C376.8,560.4 378.2,552.8 379.1,548.5 C380.1,544.2 381.0,540.5 382.0,537.0 C383.0,533.5 384.0,530.9 385.0,527.7 C386.0,524.5 387.0,520.9 388.0,517.9 C389.0,514.9 390.1,512.1 391.1,509.5 C392.1,506.9 392.8,504.8 393.8,502.0 C394.9,499.2 396.1,495.3 397.4,493.0 C398.7,490.7 400.2,489.6 401.6,488.4 C403.0,487.2 404.4,486.4 405.8,485.7 C407.2,485.0 408.7,484.9 410.1,484.1 C411.5,483.3 413.1,482.3 414.3,480.9 C415.5,479.5 416.4,478.0 417.5,475.6 C418.6,473.2 419.7,470.0 420.7,466.5 C421.7,463.0 422.6,458.2 423.6,454.4 C424.6,450.6 425.6,446.9 426.6,443.5 C427.6,440.1 428.5,436.6 429.5,433.7 C430.5,430.8 431.5,427.7 432.5,425.8 C433.5,423.9 434.4,422.7 435.4,422.4 C436.4,422.1 437.4,422.8 438.4,423.9 C439.4,425.0 440.3,426.8 441.3,428.8 C442.3,430.8 443.3,433.1 444.3,435.7 C445.3,438.3 446.2,441.9 447.2,444.5 C448.1,447.1 449.1,448.8 450.0,451.4 C450.9,454.0 451.7,456.9 452.5,460.0 C453.3,463.1 453.9,466.4 454.8,470.0 C455.7,473.6 456.8,477.7 457.8,481.8 C458.8,485.9 459.7,490.5 460.7,494.6 C461.7,498.7 462.7,502.5 463.7,506.4 C464.7,510.3 465.6,513.4 466.7,518.2 C467.8,523.0 469.0,529.6 470.5,535.0 C472.0,540.4 473.9,546.5 475.6,550.5 C477.3,554.5 479.0,556.4 480.5,559.0 C482.0,561.6 483.5,563.7 484.7,566.3 C485.9,568.9 486.7,571.8 487.8,574.8 C488.9,577.8 490.2,581.8 491.4,584.5 C492.6,587.2 493.6,589.5 495.0,591.1 C496.4,592.7 498.2,593.6 499.9,594.2 C501.6,594.8 503.5,594.7 505.3,594.8 C507.1,594.9 508.7,594.8 510.6,594.8 C512.6,594.8 515.0,594.2 517.0,594.6 C519.0,595.0 520.5,596.1 522.3,597.0 C524.1,597.9 525.8,599.0 527.6,600.1 C529.4,601.2 531.0,602.9 532.9,603.9 C534.8,604.9 536.9,605.4 539.2,606.0 C541.5,606.6 544.4,607.2 546.7,607.6 C549.0,608.0 550.8,608.3 553.0,608.6 C555.2,608.9 555.5,609.1 560.0,609.3 C564.5,609.5 576.6,609.5 579.9,609.6" fill="none" stroke="#ff0080" stroke-width="2.0" stroke-linejoin="round" stroke-linecap="butt" />
<path d="M376.3,581.5 C377.0,579.1 378.9,572.1 380.4,567.3 C381.8,562.5 383.7,556.8 385.0,552.7 C386.3,548.6 387.0,546.2 388.0,542.9 C389.0,539.6 390.2,536.0 391.1,533.0 C392.0,530.0 392.6,527.5 393.3,524.7 C394.1,521.9 394.8,519.0 395.6,516.4 C396.4,513.8 397.2,511.3 397.9,508.8 C398.6,506.3 399.2,504.2 400.0,501.5 C400.8,498.8 401.9,495.4 402.7,492.6 C403.5,489.8 404.2,487.9 405.0,484.5 C405.8,481.1 406.6,476.2 407.6,472.5 C408.6,468.8 409.6,465.4 410.8,462.2 C412.0,459.0 413.5,456.0 414.8,453.4 C416.1,450.8 417.4,449.0 418.7,446.5 C420.0,444.0 421.5,441.1 422.6,438.6 C423.8,436.1 424.6,434.0 425.6,431.7 C426.6,429.4 427.5,426.3 428.5,424.8 C429.5,423.3 430.4,422.4 431.5,422.7 C432.6,423.0 434.2,424.6 435.4,426.8 C436.5,429.0 437.4,432.2 438.4,435.7 C439.4,439.1 440.3,443.7 441.3,447.5 C442.3,451.3 443.3,454.5 444.3,458.3 C445.3,462.1 446.4,466.5 447.2,470.1 C448.0,473.7 448.4,475.9 449.2,480.0 C450.0,484.1 451.0,490.5 451.9,494.6 C452.8,498.7 453.8,501.1 454.8,504.4 C455.8,507.7 457.0,511.0 457.8,514.3 C458.6,517.6 459.1,520.2 459.8,524.0 C460.6,527.8 461.4,532.9 462.3,537.1 C463.2,541.3 464.3,545.6 465.3,549.3 C466.3,552.9 467.2,556.2 468.3,559.0 C469.4,561.8 470.6,563.9 472.0,566.3 C473.4,568.7 475.2,571.3 476.8,573.5 C478.4,575.7 480.1,577.4 481.7,579.6 C483.3,581.8 485.0,584.5 486.6,586.9 C488.2,589.3 489.8,592.4 491.4,594.2 C493.0,596.0 494.9,596.9 496.3,597.8 C497.7,598.7 498.5,599.1 500.0,599.6 C501.5,600.1 503.5,600.5 505.3,600.7 C507.1,600.9 508.7,601.0 510.6,601.0 C512.6,601.0 515.0,600.8 517.0,601.0 C519.0,601.2 520.5,601.7 522.3,602.3 C524.1,602.9 525.8,603.7 527.6,604.4 C529.4,605.1 531.0,605.9 532.9,606.5 C534.8,607.1 536.9,607.6 539.2,608.1 C541.5,608.6 543.2,608.9 546.7,609.2 C550.2,609.5 556.6,609.7 560.0,609.9 C563.4,610.1 563.7,610.3 567.0,610.4 C570.3,610.5 577.8,610.4 579.9,610.4" fill="none" stroke="#8000ff" stroke-width="2.0" stroke-linejoin="round" stroke-linecap="butt" />
<path d="M376.3,493.7 C376.8,494.2 378.3,495.3 379.3,496.4 C380.3,497.6 381.4,498.8 382.5,500.6 C383.6,502.4 384.5,504.6 385.7,507.0 C386.9,509.4 388.4,511.9 389.5,514.7 C390.6,517.5 391.7,521.3 392.6,523.8 C393.5,526.3 394.1,527.8 394.8,529.8 C395.6,531.8 396.2,533.6 397.1,535.9 C398.0,538.2 399.2,540.7 400.2,543.5 C401.2,546.3 402.1,549.4 403.2,552.6 C404.2,555.8 405.4,559.2 406.5,562.6 C407.6,566.0 408.6,569.4 410.0,573.1 C411.4,576.8 413.5,581.1 415.2,584.7 C416.9,588.4 418.7,592.4 420.3,595.0 C421.9,597.6 423.6,599.1 425.0,600.6 C426.4,602.1 427.4,603.1 428.6,604.2 C429.8,605.4 431.1,606.6 432.3,607.5 C433.5,608.4 434.5,608.8 436.0,609.3 C437.5,609.8 439.4,610.3 441.1,610.4 C442.8,610.5 444.5,610.2 446.2,609.7 C447.9,609.2 449.6,608.4 451.3,607.5 C453.0,606.6 454.7,605.5 456.4,604.2 C458.1,602.9 459.8,601.3 461.5,599.8 C463.2,598.3 464.9,597.0 466.6,595.4 C468.3,593.8 470.3,591.7 471.7,590.3 C473.1,588.9 473.7,588.5 475.0,587.0 C476.3,585.5 477.6,583.5 479.3,581.4 C481.0,579.2 483.3,576.6 485.3,574.1 C487.3,571.6 489.6,568.4 491.4,566.1 C493.2,563.8 494.9,561.6 496.3,560.5 C497.7,559.4 498.9,559.7 500.0,559.3 C501.1,558.9 502.1,558.6 503.2,558.3 C504.3,558.0 505.2,557.7 506.4,557.7 C507.6,557.7 509.0,557.9 510.6,558.3 C512.2,558.6 514.1,559.3 515.9,559.8 C517.7,560.3 519.4,560.9 521.2,561.4 C523.0,561.9 524.7,562.1 526.5,562.5 C528.3,562.9 530.0,563.3 531.8,563.6 C533.6,563.9 535.3,564.0 537.1,564.1 C538.9,564.2 540.6,564.3 542.4,564.1 C544.2,563.9 545.9,563.6 547.7,563.0 C549.5,562.4 551.1,561.3 553.0,560.7 C554.9,560.1 557.5,559.7 559.2,559.6 C561.0,559.5 562.1,559.7 563.5,560.4 C564.9,561.1 566.3,562.4 567.7,563.6 C569.1,564.8 570.6,566.4 572.0,567.8 C573.4,569.2 574.6,570.5 576.2,572.0 C577.8,573.5 579.7,575.3 581.5,576.8 C583.3,578.3 585.0,579.9 586.8,581.1 C588.6,582.3 590.3,583.3 592.1,584.2 C593.9,585.1 595.6,586.0 597.4,586.7 C599.2,587.5 600.9,588.1 602.7,588.7 C604.5,589.3 606.0,589.8 608.0,590.4 C610.0,591.0 613.0,592.0 615.0,592.6 C617.0,593.2 617.5,593.4 620.0,594.0 C622.5,594.6 626.7,595.4 630.0,596.0 C633.3,596.6 636.7,597.1 640.0,597.7 C643.3,598.3 646.5,598.9 650.0,599.6 C653.5,600.3 659.2,601.6 661.0,602.0" fill="none" stroke="#000" stroke-width="2.0" stroke-linejoin="round" stroke-linecap="butt" />
<path d="M376.3,493.1 C376.8,493.6 378.3,494.7 379.3,495.8 C380.3,496.9 381.4,498.2 382.5,500.0 C383.6,501.8 384.5,504.0 385.7,506.4 C386.9,508.8 388.4,511.3 389.5,514.1 C390.6,516.9 391.7,520.7 392.6,523.2 C393.5,525.7 394.1,527.2 394.8,529.2 C395.6,531.2 396.2,533.0 397.1,535.3 C398.0,537.6 399.2,540.1 400.2,542.9 C401.2,545.7 402.1,548.8 403.2,552.0 C404.2,555.2 405.4,558.6 406.5,562.0 C407.6,565.4 408.6,568.8 410.0,572.5 C411.4,576.2 413.5,580.5 415.2,584.1 C416.9,587.8 418.7,591.8 420.3,594.4 C421.9,597.0 423.6,598.5 425.0,600.0 C426.4,601.5 427.4,602.5 428.6,603.6 C429.8,604.8 431.1,606.0 432.3,606.9 C433.5,607.8 434.5,608.2 436.0,608.7 C437.5,609.2 439.4,609.7 441.1,609.8 C442.8,609.9 444.5,609.6 446.2,609.1 C447.9,608.6 449.6,607.8 451.3,606.9 C453.0,606.0 454.7,604.9 456.4,603.6 C458.1,602.3 459.8,600.7 461.5,599.2 C463.2,597.7 464.9,596.4 466.6,594.8 C468.3,593.2 470.3,591.1 471.7,589.7 C473.1,588.3 473.7,587.9 475.0,586.4 C476.3,584.9 477.6,582.9 479.3,580.8 C481.0,578.6 483.3,576.0 485.3,573.5 C487.3,571.0 489.6,567.6 491.4,565.5 C493.2,563.4 494.9,561.8 496.3,560.8 C497.7,559.8 498.3,560.2 500.0,559.8 C501.7,559.4 503.8,558.0 506.4,558.3 C509.0,558.6 512.5,560.3 515.9,561.4 C519.2,562.5 523.0,563.7 526.5,564.6 C530.0,565.5 533.9,566.2 537.1,566.7 C540.3,567.2 543.0,567.5 545.6,567.5 C548.2,567.5 550.7,567.0 553.0,566.7 C555.3,566.5 557.5,565.9 559.2,566.0 C561.0,566.1 562.1,566.6 563.5,567.3 C564.9,567.9 566.3,568.9 567.7,569.9 C569.1,570.9 570.6,572.0 572.0,573.1 C573.4,574.2 574.6,575.1 576.2,576.3 C577.8,577.4 579.7,578.9 581.5,580.0 C583.3,581.1 585.0,582.2 586.8,583.2 C588.6,584.2 590.3,585.0 592.1,585.8 C593.9,586.5 595.6,587.1 597.4,587.7 C599.2,588.3 600.9,588.8 602.7,589.3 C604.5,589.8 606.0,590.1 608.0,590.6 C610.0,591.1 613.0,591.7 615.0,592.1 C617.0,592.5 618.3,592.9 620.0,593.3 C621.7,593.7 623.3,594.0 625.0,594.3 C626.7,594.6 628.3,594.8 630.0,595.0 C631.7,595.2 633.3,595.3 635.0,595.4 C636.7,595.5 638.3,595.6 640.0,595.8 C641.7,596.0 643.3,596.2 645.0,596.5 C646.7,596.8 648.3,597.0 650.0,597.5 C651.7,598.0 653.2,598.6 655.0,599.2 C656.8,599.8 660.0,600.6 661.0,600.9" fill="none" stroke="#ff0080" stroke-width="2.0" stroke-linejoin="round" stroke-linecap="butt" />
<path d="M376.3,474.6 C376.8,475.3 378.3,477.0 379.3,478.8 C380.3,480.6 381.4,482.7 382.5,485.2 C383.6,487.7 384.5,490.4 385.7,493.7 C386.9,497.0 388.5,501.9 389.5,505.0 C390.5,508.1 391.0,509.8 391.8,512.6 C392.6,515.4 393.3,518.8 394.1,521.7 C394.9,524.6 395.6,527.5 396.4,530.0 C397.1,532.5 397.9,534.5 398.6,536.8 C399.4,539.1 400.0,541.1 400.9,543.6 C401.8,546.1 403.0,549.3 403.9,552.0 C404.8,554.7 405.0,556.2 406.2,559.6 C407.4,563.0 409.6,568.6 411.3,572.5 C413.0,576.4 414.8,579.6 416.5,582.8 C418.2,586.0 420.2,589.8 421.6,591.8 C423.0,593.8 423.8,593.7 425.0,594.8 C426.2,595.9 427.4,597.4 428.6,598.5 C429.8,599.6 431.1,600.6 432.3,601.4 C433.5,602.2 434.5,602.8 436.0,603.2 C437.5,603.6 439.4,603.9 441.1,603.9 C442.8,603.9 444.5,603.6 446.2,603.2 C447.9,602.8 449.6,602.2 451.3,601.4 C453.0,600.6 454.7,599.6 456.4,598.5 C458.1,597.4 459.8,596.1 461.5,594.8 C463.2,593.5 464.9,592.1 466.6,590.8 C468.3,589.5 470.3,587.9 471.7,586.8 C473.1,585.6 473.7,585.2 475.0,583.9 C476.3,582.6 477.6,581.1 479.3,579.2 C481.0,577.3 483.3,574.9 485.3,572.5 C487.3,570.1 489.6,567.0 491.4,565.0 C493.2,563.0 494.7,561.4 496.3,560.2 C497.9,559.0 499.4,558.3 501.1,558.0 C502.8,557.7 503.9,557.8 506.4,558.3 C508.9,558.8 512.5,560.0 515.9,560.9 C519.2,561.8 523.0,563.0 526.5,563.6 C530.0,564.2 533.9,564.4 537.1,564.6 C540.3,564.8 543.0,564.9 545.6,564.6 C548.2,564.3 550.7,563.4 553.0,563.0 C555.3,562.6 557.5,562.4 559.2,562.5 C561.0,562.6 562.1,563.0 563.5,563.6 C564.9,564.2 566.3,565.2 567.7,566.2 C569.1,567.2 570.6,568.6 572.0,569.9 C573.4,571.2 574.6,572.7 576.2,574.2 C577.8,575.7 579.7,577.4 581.5,578.7 C583.3,580.1 585.0,581.2 586.8,582.3 C588.6,583.4 590.3,584.4 592.1,585.3 C593.9,586.2 595.6,587.0 597.4,587.7 C599.2,588.4 600.9,588.9 602.7,589.5 C604.5,590.1 606.0,590.7 608.0,591.3 C610.0,591.9 613.0,592.6 615.0,593.1 C617.0,593.6 618.3,593.8 620.0,594.2 C621.7,594.6 623.3,595.0 625.0,595.4 C626.7,595.8 628.3,596.0 630.0,596.3 C631.7,596.5 633.3,596.7 635.0,596.9 C636.7,597.1 638.3,597.3 640.0,597.5 C641.7,597.7 643.3,597.9 645.0,598.3 C646.7,598.6 648.3,599.2 650.0,599.6 C651.7,600.0 653.2,600.3 655.0,600.8 C656.8,601.2 660.0,602.0 661.0,602.3" fill="none" stroke="#8000ff" stroke-width="2.0" stroke-linejoin="round" stroke-linecap="butt" />
<path d="M459.6,459.6 L499.6,459.6" stroke="#1010cc" stroke-width="2.0" fill="none"/>
<path d="M495.0,456.6 L500.6,459.6 L495.0,462.6" stroke="#1010cc" stroke-width="2.0" fill="none" stroke-linejoin="miter" stroke-miterlimit="10"/>
<path d="M497.2,458.0 L500.6,459.6 L497.2,461.2 Z" fill="#1010cc"/>
<path d="M565.1,577.2 L530.5,577.2" stroke="#000" stroke-width="2.0" fill="none"/>
<path d="M535.1,574.2 L529.5,577.2 L535.1,580.2" stroke="#000" stroke-width="2.0" fill="none" stroke-linejoin="miter" stroke-miterlimit="10"/>
<path d="M532.9,575.6 L529.5,577.2 L532.9,578.9 Z" fill="#000"/>
</svg>
</body></html>
